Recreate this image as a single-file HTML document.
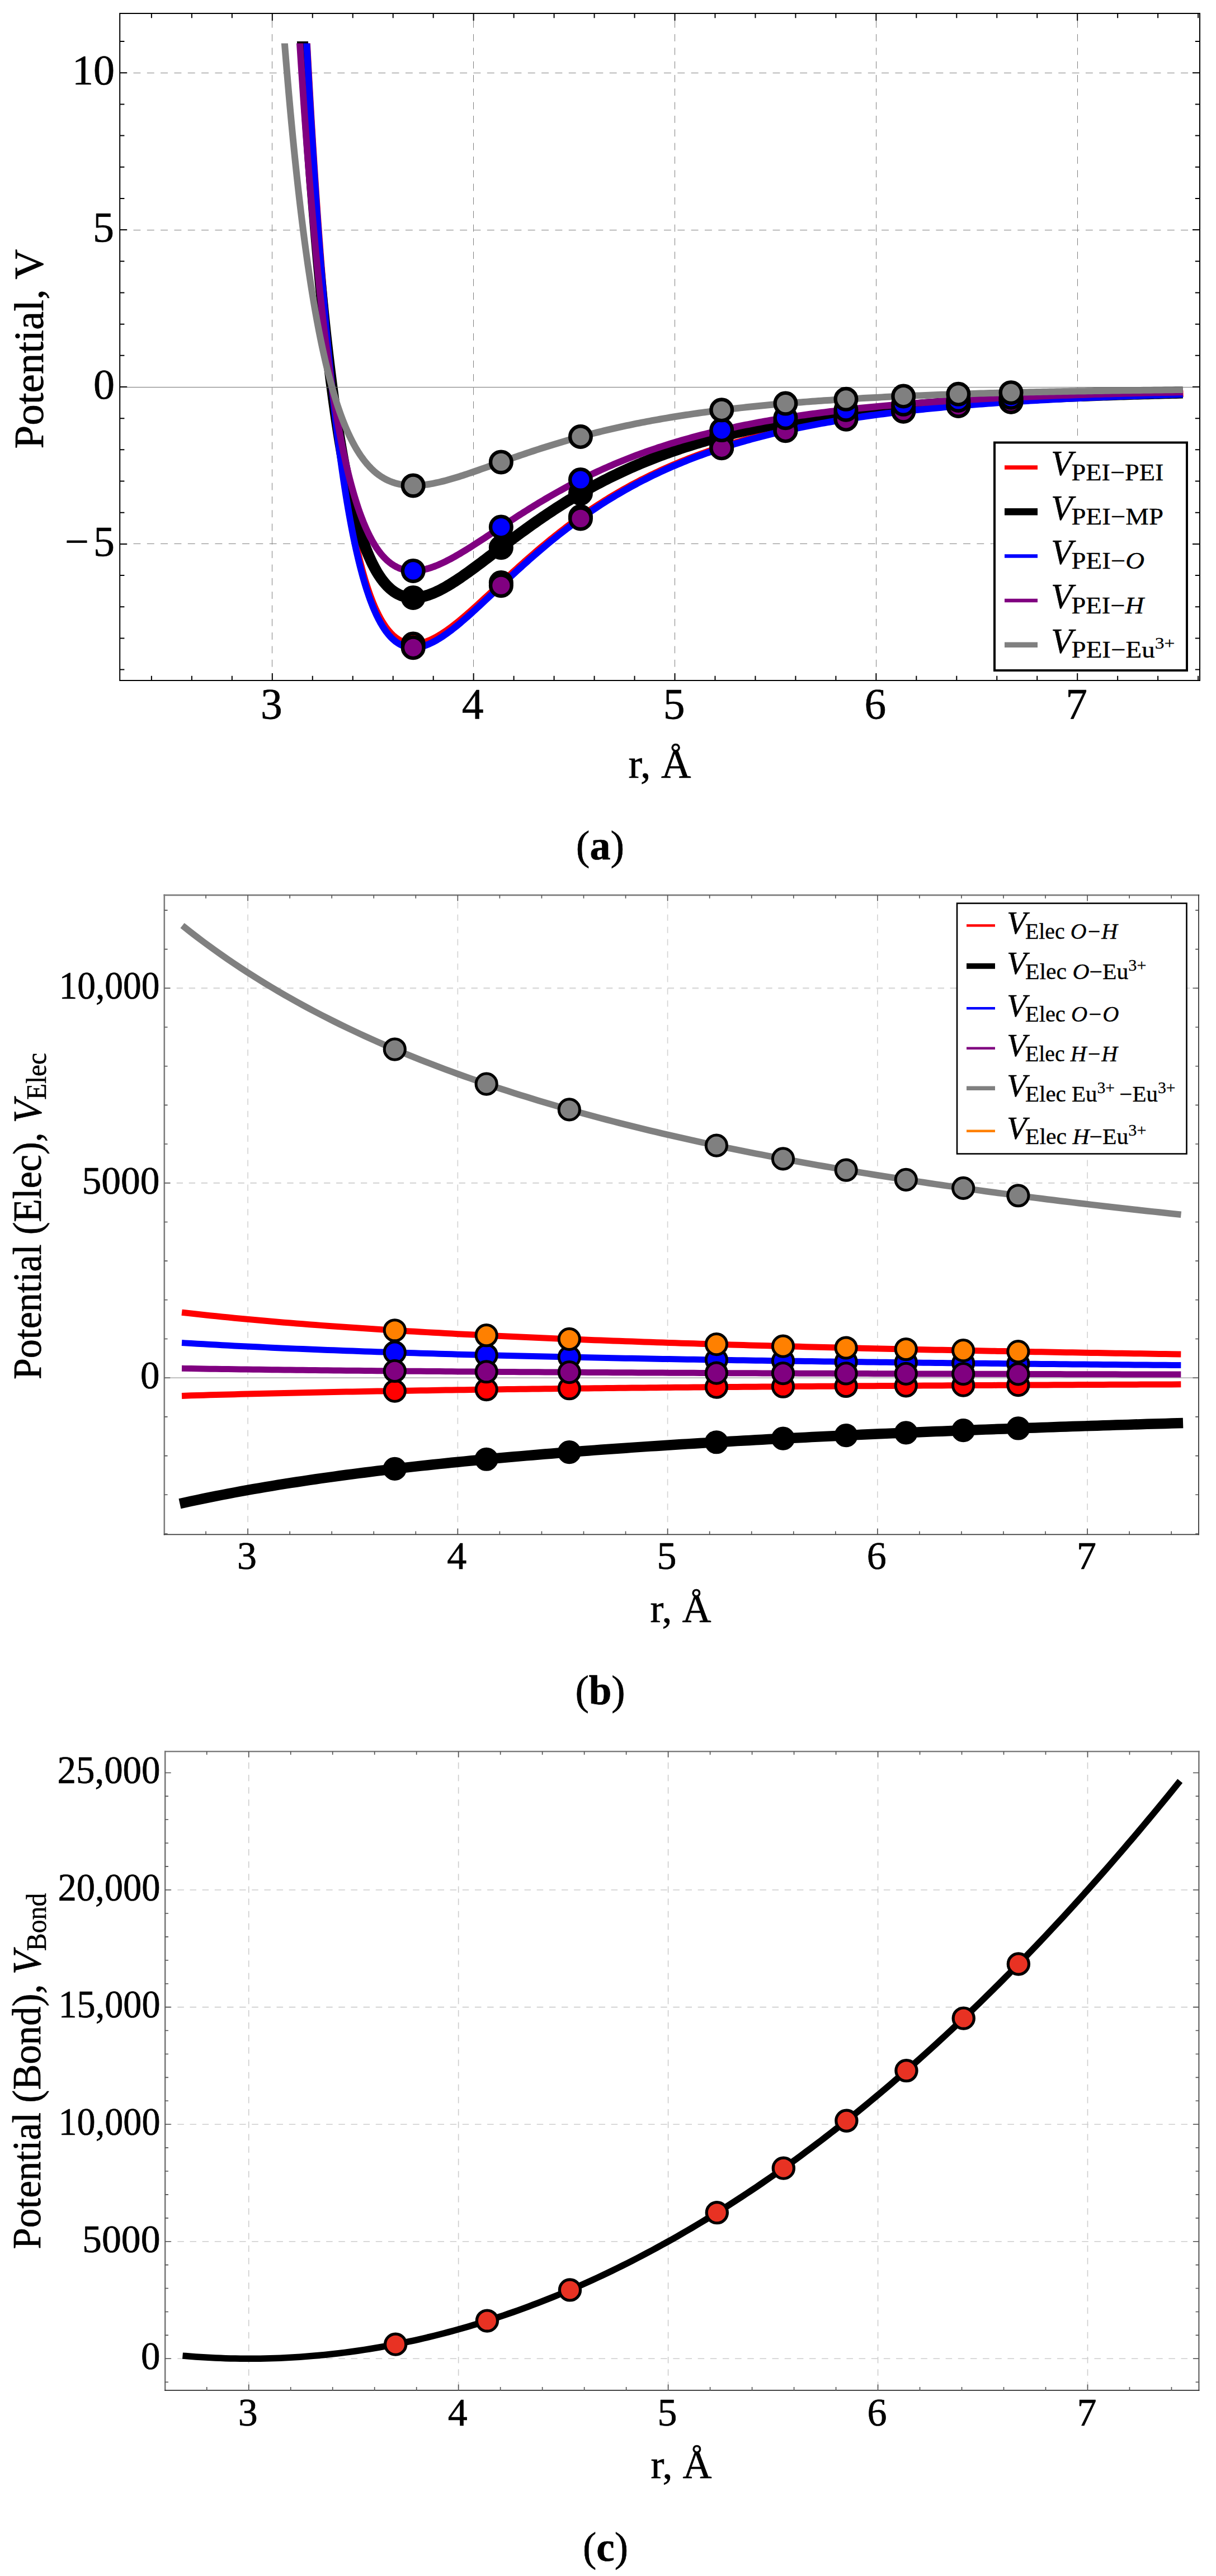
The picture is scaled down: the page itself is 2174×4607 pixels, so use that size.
<!DOCTYPE html>
<html lang="en">
<head>
<meta charset="utf-8">
<title>Potentials</title>
<style>
html,body{margin:0;padding:0;background:#fff;}
body{width:2174px;height:4607px;overflow:hidden;}
svg{display:block;}
svg text{font-family:"Liberation Serif", serif;fill:#000;stroke:#000;stroke-linejoin:round;}
.ta text,.ta tspan{stroke-width:0.009em;}
.tb text,.tb tspan{stroke-width:0.010em;}
</style>
</head>
<body>
<svg width="2174" height="4607" viewBox="0 0 2174 4607">
<rect x="0" y="0" width="2174" height="4607" fill="#fff"/>
<g id="plot-a" class="ta">
<line x1="486.5" y1="1217" x2="486.5" y2="24" stroke="#808080" stroke-width="1" stroke-dasharray="12.9 11.42"/>
<line x1="846.5" y1="1217" x2="846.5" y2="24" stroke="#808080" stroke-width="1" stroke-dasharray="12.9 11.42"/>
<line x1="1206.5" y1="1217" x2="1206.5" y2="24" stroke="#808080" stroke-width="1" stroke-dasharray="12.9 11.42"/>
<line x1="1566.5" y1="1217" x2="1566.5" y2="24" stroke="#808080" stroke-width="1" stroke-dasharray="12.9 11.42"/>
<line x1="1926.5" y1="1217" x2="1926.5" y2="24" stroke="#808080" stroke-width="1" stroke-dasharray="12.9 11.42"/>
<line x1="214.2" y1="130.5" x2="2145" y2="130.5" stroke="#808080" stroke-width="1" stroke-dasharray="12.9 11.42"/>
<line x1="214.2" y1="411.5" x2="2145" y2="411.5" stroke="#808080" stroke-width="1" stroke-dasharray="12.9 11.42"/>
<line x1="214.2" y1="972.5" x2="2145" y2="972.5" stroke="#808080" stroke-width="1" stroke-dasharray="12.9 11.42"/>
<g clip-path="url(#clipA)">
<path d="M546.83 54.92 L546.94 56.97 L547.16 61.12 L547.46 66.76 L547.82 73.63 L548.25 81.57 L548.73 90.47 L549.26 100.24 L549.83 110.79 L550.45 122.07 L551.12 134.01 L551.83 146.56 L552.57 159.68 L553.36 173.31 L554.18 187.42 L555.03 201.96 L555.93 216.89 L556.85 232.19 L557.81 247.82 L558.8 263.74 L559.83 279.92 L560.88 296.34 L561.97 312.96 L563.08 329.76 L564.23 346.72 L565.4 363.8 L566.6 380.98 L567.83 398.24 L569.09 415.56 L570.38 432.91 L571.69 450.28 L573.03 467.64 L574.39 484.97 L575.78 502.26 L577.2 519.5 L578.64 536.65 L580.11 553.72 L581.6 570.67 L583.12 587.5 L584.66 604.2 L586.22 620.74 L587.81 637.13 L589.42 653.34 L591.05 669.36 L592.71 685.19 L594.39 700.82 L596.09 716.23 L597.81 731.42 L599.56 746.38 L601.33 761.1 L603.12 775.57 L604.93 789.79 L606.76 803.75 L608.62 817.45 L610.49 830.89 L612.39 844.04 L614.31 856.93 L616.25 869.53 L618.2 881.85 L620.18 893.88 L622.18 905.62 L624.2 917.07 L626.24 928.23 L628.3 939.1 L630.38 949.67 L632.48 959.95 L634.59 969.94 L636.73 979.63 L638.89 989.02 L641.06 998.12 L643.26 1006.93 L645.47 1015.45 L647.7 1023.68 L649.95 1031.62 L652.22 1039.27 L654.51 1046.64 L656.82 1053.73 L659.14 1060.54 L661.49 1067.07 L663.85 1073.33 L666.23 1079.31 L668.62 1085.04 L671.04 1090.49 L673.47 1095.69 L675.92 1100.63 L678.39 1105.31 L680.87 1109.75 L683.37 1113.94 L685.89 1117.89 L688.43 1121.6 L690.99 1125.08 L693.56 1128.33 L696.14 1131.35 L698.75 1134.15 L701.37 1136.74 L704.01 1139.11 L706.67 1141.28 L709.34 1143.24 L712.03 1145 L714.73 1146.57 L717.45 1147.95 L720.19 1149.14 L722.95 1150.15 L725.72 1150.99 L728.5 1151.65 L731.31 1152.15 L734.13 1152.48 L736.96 1152.65 L739.81 1152.66 L742.68 1152.53 L745.56 1152.25 L748.46 1151.83 L751.37 1151.27 L754.3 1150.57 L757.25 1149.75 L760.21 1148.8 L763.19 1147.73 L766.18 1146.54 L769.19 1145.24 L772.21 1143.83 L775.25 1142.31 L778.3 1140.69 L781.37 1138.98 L784.45 1137.16 L787.55 1135.26 L790.66 1133.27 L793.79 1131.19 L796.94 1129.03 L800.09 1126.8 L803.27 1124.49 L806.45 1122.11 L809.66 1119.66 L812.87 1117.15 L816.11 1114.58 L819.35 1111.94 L822.61 1109.26 L825.89 1106.51 L829.18 1103.72 L832.49 1100.88 L835.8 1098 L839.14 1095.07 L842.49 1092.1 L845.85 1089.1 L849.22 1086.06 L852.61 1082.98 L856.02 1079.88 L859.44 1076.75 L862.87 1073.59 L866.32 1070.41 L869.78 1067.2 L873.25 1063.98 L876.74 1060.74 L880.24 1057.48 L883.76 1054.21 L887.29 1050.92 L890.84 1047.63 L894.39 1044.32 L897.97 1041.01 L901.55 1037.69 L905.15 1034.36 L908.76 1031.04 L912.39 1027.71 L916.03 1024.38 L919.68 1021.05 L923.35 1017.72 L927.03 1014.4 L930.72 1011.08 L934.43 1007.76 L938.15 1004.46 L941.88 1001.16 L945.63 997.87 L949.39 994.58 L953.16 991.31 L956.95 988.05 L960.75 984.81 L964.56 981.57 L968.39 978.35 L972.22 975.15 L976.08 971.96 L979.94 968.79 L983.82 965.63 L987.71 962.49 L991.61 959.37 L995.53 956.26 L999.46 953.18 L1003.4 950.11 L1007.36 947.07 L1011.32 944.04 L1015.3 941.04 L1019.3 938.06 L1023.3 935.1 L1027.32 932.16 L1031.35 929.24 L1035.4 926.35 L1039.45 923.47 L1043.52 920.63 L1047.61 917.8 L1051.7 915 L1055.81 912.22 L1059.93 909.47 L1064.06 906.74 L1068.2 904.04 L1072.36 901.36 L1076.53 898.7 L1080.71 896.07 L1084.9 893.46 L1089.11 890.88 L1093.32 888.32 L1097.55 885.79 L1101.8 883.29 L1106.05 880.81 L1110.32 878.35 L1114.6 875.92 L1118.89 873.51 L1123.19 871.13 L1127.51 868.77 L1131.83 866.44 L1136.17 864.14 L1140.52 861.86 L1144.89 859.6 L1149.26 857.37 L1153.65 855.16 L1158.05 852.98 L1162.46 850.82 L1166.88 848.69 L1171.32 846.58 L1175.77 844.49 L1180.22 842.43 L1184.69 840.4 L1189.18 838.38 L1193.67 836.39 L1198.18 834.43 L1202.69 832.49 L1207.22 830.57 L1211.76 828.67 L1216.32 826.8 L1220.88 824.95 L1225.46 823.12 L1230.04 821.31 L1234.64 819.53 L1239.25 817.77 L1243.87 816.03 L1248.51 814.31 L1253.15 812.62 L1257.81 810.94 L1262.48 809.29 L1267.16 807.66 L1271.85 806.04 L1276.55 804.45 L1281.26 802.88 L1285.99 801.33 L1290.72 799.8 L1295.47 798.29 L1300.23 796.8 L1305 795.33 L1309.78 793.88 L1314.57 792.45 L1319.38 791.03 L1324.19 789.64 L1329.02 788.26 L1333.86 786.9 L1338.71 785.56 L1343.57 784.24 L1348.44 782.94 L1353.32 781.65 L1358.21 780.38 L1363.12 779.13 L1368.03 777.89 L1372.96 776.68 L1377.9 775.47 L1382.84 774.29 L1387.8 773.12 L1392.78 771.97 L1397.76 770.83 L1402.75 769.71 L1407.75 768.6 L1412.77 767.51 L1417.79 766.43 L1422.83 765.37 L1427.88 764.33 L1432.93 763.3 L1438 762.28 L1443.08 761.28 L1448.17 760.29 L1453.27 759.31 L1458.39 758.35 L1463.51 757.4 L1468.64 756.47 L1473.79 755.55 L1478.94 754.64 L1484.11 753.74 L1489.28 752.86 L1494.47 751.99 L1499.67 751.13 L1504.88 750.28 L1510.1 749.45 L1515.33 748.63 L1520.57 747.82 L1525.82 747.02 L1531.08 746.23 L1536.35 745.46 L1541.64 744.69 L1546.93 743.94 L1552.23 743.19 L1557.55 742.46 L1562.87 741.74 L1568.21 741.03 L1573.55 740.33 L1578.91 739.64 L1584.28 738.95 L1589.65 738.28 L1595.04 737.62 L1600.44 736.97 L1605.85 736.32 L1611.26 735.69 L1616.69 735.07 L1622.13 734.45 L1627.58 733.84 L1633.04 733.25 L1638.51 732.66 L1643.99 732.08 L1649.48 731.51 L1654.99 730.94 L1660.5 730.39 L1666.02 729.84 L1671.55 729.3 L1677.09 728.77 L1682.65 728.24 L1688.21 727.73 L1693.78 727.22 L1699.36 726.72 L1704.96 726.22 L1710.56 725.73 L1716.17 725.25 L1721.8 724.78 L1727.43 724.32 L1733.07 723.86 L1738.73 723.4 L1744.39 722.96 L1750.07 722.52 L1755.75 722.09 L1761.44 721.66 L1767.15 721.24 L1772.86 720.82 L1778.59 720.42 L1784.32 720.01 L1790.06 719.62 L1795.82 719.23 L1801.58 718.84 L1807.36 718.46 L1813.14 718.09 L1818.93 717.72 L1824.74 717.36 L1830.55 717 L1836.38 716.65 L1842.21 716.3 L1848.05 715.96 L1853.9 715.62 L1859.77 715.29 L1865.64 714.96 L1871.52 714.64 L1877.42 714.32 L1883.32 714 L1889.23 713.7 L1895.15 713.39 L1901.08 713.09 L1907.02 712.8 L1912.98 712.5 L1918.94 712.22 L1924.91 711.93 L1930.89 711.66 L1936.88 711.38 L1942.88 711.11 L1948.89 710.84 L1954.9 710.58 L1960.93 710.32 L1966.97 710.07 L1973.02 709.82 L1979.08 709.57 L1985.14 709.32 L1991.22 709.08 L1997.31 708.85 L2003.4 708.61 L2009.51 708.38 L2015.62 708.15 L2021.75 707.93 L2027.88 707.71 L2034.03 707.49 L2040.18 707.28 L2046.34 707.07 L2052.52 706.86 L2058.7 706.65 L2064.89 706.45 L2071.09 706.25 L2077.3 706.06 L2083.52 705.86 L2089.75 705.67 L2095.99 705.49 L2102.24 705.3 L2108.49 705.12 L2114.76 704.94" fill="none" stroke="#ff0000" stroke-width="12" stroke-linejoin="round" stroke-linecap="butt" transform="translate(0.8,-0.9)"/>
</g>
<g clip-path="url(#clipAb)">
<path d="M539.79 54.92 L539.9 56.79 L540.11 60.57 L540.41 65.72 L540.78 71.98 L541.21 79.23 L541.69 87.34 L542.22 96.25 L542.8 105.88 L543.42 116.17 L544.09 127.07 L544.8 138.52 L545.55 150.48 L546.34 162.92 L547.16 175.79 L548.02 189.06 L548.92 202.68 L549.85 216.65 L550.81 230.91 L551.81 245.43 L552.84 260.21 L553.9 275.19 L554.99 290.37 L556.11 305.71 L557.26 321.19 L558.44 336.78 L559.65 352.47 L560.88 368.24 L562.14 384.05 L563.44 399.9 L564.75 415.77 L566.1 431.63 L567.47 447.48 L568.87 463.28 L570.29 479.03 L571.74 494.72 L573.21 510.32 L574.71 525.83 L576.23 541.23 L577.78 556.5 L579.35 571.65 L580.94 586.64 L582.56 601.49 L584.2 616.16 L585.87 630.67 L587.55 644.99 L589.26 659.11 L590.99 673.04 L592.75 686.76 L594.53 700.26 L596.32 713.55 L598.14 726.6 L599.99 739.43 L601.85 752.02 L603.73 764.37 L605.64 776.47 L607.56 788.33 L609.51 799.93 L611.48 811.28 L613.47 822.37 L615.47 833.21 L617.5 843.78 L619.55 854.09 L621.62 864.13 L623.71 873.91 L625.81 883.43 L627.94 892.68 L630.09 901.67 L632.26 910.39 L634.44 918.85 L636.64 927.05 L638.87 934.98 L641.11 942.65 L643.37 950.07 L645.65 957.23 L647.95 964.13 L650.27 970.78 L652.6 977.18 L654.95 983.33 L657.33 989.24 L659.72 994.9 L662.12 1000.32 L664.55 1005.51 L666.99 1010.46 L669.45 1015.18 L671.93 1019.67 L674.43 1023.94 L676.94 1027.99 L679.47 1031.82 L682.02 1035.44 L684.59 1038.85 L687.17 1042.05 L689.77 1045.05 L692.39 1047.86 L695.02 1050.46 L697.67 1052.88 L700.34 1055.11 L703.02 1057.16 L705.72 1059.03 L708.44 1060.72 L711.17 1062.25 L713.92 1063.61 L716.69 1064.8 L719.47 1065.83 L722.27 1066.72 L725.09 1067.44 L727.92 1068.03 L730.77 1068.47 L733.63 1068.77 L736.51 1068.93 L739.41 1068.96 L742.32 1068.87 L745.25 1068.65 L748.19 1068.31 L751.15 1067.86 L754.12 1067.29 L757.11 1066.61 L760.12 1065.82 L763.14 1064.94 L766.17 1063.95 L769.23 1062.87 L772.29 1061.7 L775.38 1060.43 L778.47 1059.09 L781.58 1057.66 L784.71 1056.15 L787.85 1054.56 L791.01 1052.9 L794.18 1051.17 L797.37 1049.37 L800.57 1047.51 L803.79 1045.59 L807.02 1043.61 L810.27 1041.57 L813.53 1039.47 L816.81 1037.33 L820.1 1035.14 L823.4 1032.9 L826.72 1030.62 L830.06 1028.3 L833.4 1025.93 L836.77 1023.53 L840.14 1021.1 L843.54 1018.63 L846.94 1016.14 L850.36 1013.61 L853.8 1011.06 L857.24 1008.48 L860.71 1005.88 L864.18 1003.26 L867.67 1000.62 L871.18 997.97 L874.7 995.29 L878.23 992.61 L881.77 989.91 L885.33 987.19 L888.91 984.47 L892.5 981.74 L896.1 979.01 L899.71 976.27 L903.34 973.52 L906.98 970.77 L910.64 968.02 L914.31 965.27 L917.99 962.52 L921.69 959.76 L925.4 957.02 L929.12 954.27 L932.86 951.53 L936.61 948.8 L940.37 946.07 L944.15 943.35 L947.94 940.63 L951.74 937.93 L955.56 935.23 L959.39 932.55 L963.23 929.87 L967.09 927.21 L970.96 924.56 L974.84 921.92 L978.74 919.3 L982.64 916.69 L986.57 914.09 L990.5 911.51 L994.45 908.94 L998.41 906.39 L1002.38 903.86 L1006.36 901.34 L1010.36 898.84 L1014.37 896.36 L1018.4 893.89 L1022.44 891.45 L1026.48 889.02 L1030.55 886.61 L1034.62 884.22 L1038.71 881.84 L1042.81 879.49 L1046.92 877.16 L1051.05 874.84 L1055.18 872.55 L1059.33 870.28 L1063.5 868.02 L1067.67 865.79 L1071.86 863.58 L1076.06 861.38 L1080.27 859.21 L1084.5 857.06 L1088.73 854.93 L1092.98 852.82 L1097.24 850.73 L1101.52 848.66 L1105.8 846.62 L1110.1 844.59 L1114.41 842.58 L1118.74 840.6 L1123.07 838.64 L1127.42 836.69 L1131.78 834.77 L1136.15 832.87 L1140.53 830.99 L1144.92 829.13 L1149.33 827.29 L1153.75 825.47 L1158.18 823.68 L1162.62 821.9 L1167.08 820.14 L1171.55 818.4 L1176.02 816.69 L1180.51 814.99 L1185.02 813.31 L1189.53 811.66 L1194.06 810.02 L1198.59 808.4 L1203.14 806.8 L1207.7 805.22 L1212.28 803.66 L1216.86 802.12 L1221.46 800.6 L1226.07 799.09 L1230.69 797.61 L1235.32 796.14 L1239.96 794.7 L1244.61 793.27 L1249.28 791.85 L1253.96 790.46 L1258.65 789.08 L1263.35 787.73 L1268.06 786.38 L1272.78 785.06 L1277.52 783.75 L1282.26 782.46 L1287.02 781.19 L1291.79 779.94 L1296.57 778.7 L1301.36 777.47 L1306.16 776.26 L1310.98 775.07 L1315.8 773.9 L1320.64 772.74 L1325.49 771.59 L1330.35 770.46 L1335.22 769.35 L1340.1 768.25 L1344.99 767.17 L1349.9 766.1 L1354.81 765.04 L1359.74 764 L1364.68 762.97 L1369.62 761.96 L1374.58 760.96 L1379.56 759.98 L1384.54 759.01 L1389.53 758.05 L1394.53 757.11 L1399.55 756.17 L1404.58 755.26 L1409.61 754.35 L1414.66 753.46 L1419.72 752.58 L1424.79 751.71 L1429.87 750.85 L1434.96 750.01 L1440.06 749.17 L1445.18 748.35 L1450.3 747.54 L1455.44 746.75 L1460.58 745.96 L1465.74 745.18 L1470.91 744.42 L1476.08 743.67 L1481.27 742.92 L1486.47 742.19 L1491.68 741.47 L1496.91 740.76 L1502.14 740.06 L1507.38 739.37 L1512.63 738.68 L1517.9 738.01 L1523.17 737.35 L1528.46 736.7 L1533.75 736.05 L1539.06 735.42 L1544.38 734.8 L1549.7 734.18 L1555.04 733.57 L1560.39 732.98 L1565.75 732.39 L1571.12 731.81 L1576.5 731.23 L1581.89 730.67 L1587.29 730.11 L1592.7 729.56 L1598.13 729.02 L1603.56 728.49 L1609 727.97 L1614.46 727.45 L1619.92 726.94 L1625.39 726.44 L1630.88 725.95 L1636.37 725.46 L1641.88 724.98 L1647.39 724.5 L1652.92 724.04 L1658.46 723.58 L1664 723.13 L1669.56 722.68 L1675.13 722.24 L1680.7 721.81 L1686.29 721.38 L1691.89 720.96 L1697.5 720.54 L1703.12 720.14 L1708.74 719.73 L1714.38 719.34 L1720.03 718.95 L1725.69 718.56 L1731.36 718.18 L1737.04 717.81 L1742.73 717.44 L1748.43 717.08 L1754.14 716.72 L1759.86 716.37 L1765.59 716.02 L1771.33 715.68 L1777.08 715.34 L1782.84 715.01 L1788.61 714.68 L1794.39 714.36 L1800.18 714.04 L1805.98 713.73 L1811.78 713.42 L1817.6 713.11 L1823.43 712.81 L1829.27 712.52 L1835.12 712.23 L1840.98 711.94 L1846.85 711.66 L1852.73 711.38 L1858.62 711.11 L1864.52 710.84 L1870.43 710.57 L1876.35 710.31 L1882.28 710.05 L1888.22 709.8 L1894.16 709.55 L1900.12 709.3 L1906.09 709.05 L1912.07 708.81 L1918.06 708.58 L1924.05 708.35 L1930.06 708.12 L1936.08 707.89 L1942.1 707.67 L1948.14 707.45 L1954.19 707.23 L1960.24 707.02 L1966.31 706.81 L1972.38 706.6 L1978.47 706.4 L1984.56 706.19 L1990.67 706 L1996.78 705.8 L2002.9 705.61 L2009.04 705.42 L2015.18 705.23 L2021.33 705.05 L2027.49 704.87 L2033.66 704.69 L2039.85 704.51 L2046.04 704.34 L2052.24 704.17 L2058.45 704 L2064.67 703.83 L2070.89 703.67 L2077.13 703.51 L2083.38 703.35 L2089.64 703.19 L2095.9 703.04 L2102.18 702.88 L2108.47 702.73 L2114.76 702.59" fill="none" stroke="#000000" stroke-width="20" stroke-linejoin="round" stroke-linecap="butt" />
</g>
<g clip-path="url(#clipA)">
<path d="M547.24 54.92 L547.35 56.98 L547.56 61.16 L547.86 66.83 L548.23 73.74 L548.65 81.72 L549.13 90.68 L549.66 100.5 L550.24 111.12 L550.86 122.46 L551.52 134.48 L552.23 147.1 L552.97 160.3 L553.76 174.01 L554.58 188.19 L555.44 202.82 L556.33 217.84 L557.25 233.23 L558.21 248.95 L559.2 264.96 L560.23 281.24 L561.28 297.75 L562.37 314.48 L563.48 331.37 L564.63 348.43 L565.8 365.61 L567 382.89 L568.23 400.25 L569.49 417.67 L570.78 435.12 L572.09 452.59 L573.43 470.05 L574.79 487.48 L576.18 504.87 L577.6 522.21 L579.04 539.46 L580.5 556.62 L582 573.67 L583.51 590.6 L585.05 607.39 L586.61 624.03 L588.2 640.51 L589.81 656.81 L591.44 672.92 L593.1 688.84 L594.78 704.56 L596.48 720.05 L598.2 735.33 L599.95 750.37 L601.72 765.17 L603.51 779.72 L605.32 794.02 L607.15 808.06 L609.01 821.83 L610.88 835.34 L612.78 848.57 L614.69 861.52 L616.63 874.18 L618.59 886.57 L620.57 898.66 L622.57 910.47 L624.59 921.98 L626.62 933.2 L628.68 944.12 L630.76 954.74 L632.86 965.07 L634.98 975.11 L637.11 984.84 L639.27 994.28 L641.44 1003.43 L643.64 1012.28 L645.85 1020.83 L648.08 1029.1 L650.33 1037.07 L652.6 1044.76 L654.89 1052.16 L657.19 1059.28 L659.52 1066.11 L661.86 1072.67 L664.22 1078.95 L666.6 1084.96 L669 1090.7 L671.41 1096.18 L673.84 1101.39 L676.29 1106.34 L678.76 1111.04 L681.24 1115.49 L683.74 1119.69 L686.26 1123.64 L688.8 1127.36 L691.35 1130.84 L693.92 1134.09 L696.51 1137.12 L699.11 1139.92 L701.74 1142.51 L704.37 1144.88 L707.03 1147.04 L709.7 1148.99 L712.39 1150.75 L715.09 1152.31 L717.81 1153.68 L720.55 1154.86 L723.31 1155.86 L726.08 1156.68 L728.86 1157.33 L731.66 1157.81 L734.48 1158.12 L737.32 1158.28 L740.17 1158.27 L743.03 1158.12 L745.91 1157.82 L748.81 1157.37 L751.73 1156.79 L754.65 1156.07 L757.6 1155.23 L760.56 1154.25 L763.54 1153.16 L766.53 1151.94 L769.53 1150.61 L772.55 1149.17 L775.59 1147.62 L778.64 1145.98 L781.71 1144.23 L784.79 1142.38 L787.89 1140.45 L791 1138.42 L794.13 1136.31 L797.27 1134.12 L800.43 1131.86 L803.6 1129.51 L806.79 1127.1 L809.99 1124.62 L813.21 1122.07 L816.44 1119.46 L819.69 1116.79 L822.95 1114.06 L826.22 1111.29 L829.51 1108.46 L832.82 1105.58 L836.13 1102.66 L839.47 1099.69 L842.81 1096.68 L846.17 1093.64 L849.55 1090.56 L852.94 1087.45 L856.34 1084.31 L859.76 1081.14 L863.19 1077.94 L866.64 1074.72 L870.1 1071.48 L873.57 1068.22 L877.06 1064.94 L880.56 1061.64 L884.08 1058.33 L887.61 1055 L891.15 1051.67 L894.71 1048.32 L898.28 1044.97 L901.86 1041.61 L905.46 1038.25 L909.07 1034.88 L912.7 1031.51 L916.34 1028.14 L919.99 1024.78 L923.65 1021.41 L927.33 1018.05 L931.03 1014.69 L934.73 1011.34 L938.45 1007.99 L942.18 1004.66 L945.93 1001.33 L949.69 998.01 L953.46 994.7 L957.25 991.41 L961.04 988.12 L964.86 984.85 L968.68 981.6 L972.52 978.35 L976.37 975.13 L980.23 971.92 L984.11 968.73 L988 965.55 L991.9 962.39 L995.82 959.26 L999.75 956.14 L1003.69 953.04 L1007.64 949.96 L1011.61 946.9 L1015.59 943.86 L1019.58 940.85 L1023.59 937.85 L1027.6 934.88 L1031.63 931.93 L1035.68 929 L1039.73 926.1 L1043.8 923.22 L1047.88 920.36 L1051.97 917.53 L1056.08 914.72 L1060.2 911.94 L1064.33 909.18 L1068.47 906.44 L1072.63 903.73 L1076.79 901.05 L1080.97 898.39 L1085.17 895.75 L1089.37 893.14 L1093.59 890.56 L1097.82 888 L1102.06 885.46 L1106.31 882.96 L1110.58 880.47 L1114.86 878.01 L1119.15 875.58 L1123.45 873.17 L1127.76 870.79 L1132.09 868.43 L1136.43 866.1 L1140.78 863.8 L1145.14 861.51 L1149.51 859.26 L1153.9 857.03 L1158.3 854.82 L1162.71 852.64 L1167.13 850.48 L1171.56 848.35 L1176.01 846.24 L1180.47 844.16 L1184.93 842.1 L1189.42 840.06 L1193.91 838.05 L1198.41 836.06 L1202.93 834.1 L1207.46 832.16 L1212 830.24 L1216.55 828.34 L1221.11 826.47 L1225.68 824.63 L1230.27 822.8 L1234.87 821 L1239.48 819.22 L1244.1 817.46 L1248.73 815.72 L1253.37 814.01 L1258.03 812.31 L1262.7 810.64 L1267.37 808.99 L1272.06 807.36 L1276.76 805.75 L1281.48 804.16 L1286.2 802.6 L1290.94 801.05 L1295.68 799.52 L1300.44 798.01 L1305.21 796.53 L1309.99 795.06 L1314.78 793.61 L1319.58 792.18 L1324.4 790.77 L1329.22 789.38 L1334.06 788 L1338.91 786.65 L1343.76 785.31 L1348.63 783.99 L1353.52 782.69 L1358.41 781.41 L1363.31 780.14 L1368.22 778.89 L1373.15 777.66 L1378.09 776.45 L1383.03 775.25 L1387.99 774.06 L1392.96 772.9 L1397.94 771.75 L1402.93 770.61 L1407.94 769.49 L1412.95 768.39 L1417.97 767.3 L1423.01 766.23 L1428.05 765.17 L1433.11 764.13 L1438.18 763.1 L1443.26 762.09 L1448.35 761.09 L1453.45 760.1 L1458.56 759.13 L1463.68 758.17 L1468.81 757.22 L1473.95 756.29 L1479.11 755.37 L1484.27 754.47 L1489.45 753.57 L1494.63 752.69 L1499.83 751.83 L1505.04 750.97 L1510.25 750.13 L1515.48 749.3 L1520.72 748.48 L1525.97 747.67 L1531.23 746.87 L1536.5 746.09 L1541.78 745.31 L1547.07 744.55 L1552.38 743.8 L1557.69 743.06 L1563.01 742.33 L1568.35 741.61 L1573.69 740.9 L1579.05 740.2 L1584.41 739.51 L1589.79 738.83 L1595.17 738.16 L1600.57 737.5 L1605.98 736.85 L1611.39 736.21 L1616.82 735.58 L1622.26 734.95 L1627.71 734.34 L1633.17 733.74 L1638.64 733.14 L1644.12 732.55 L1649.6 731.97 L1655.1 731.4 L1660.61 730.84 L1666.13 730.29 L1671.67 729.74 L1677.21 729.2 L1682.76 728.67 L1688.32 728.15 L1693.89 727.64 L1699.47 727.13 L1705.06 726.63 L1710.66 726.14 L1716.28 725.65 L1721.9 725.17 L1727.53 724.7 L1733.17 724.24 L1738.83 723.78 L1744.49 723.33 L1750.16 722.88 L1755.84 722.44 L1761.54 722.01 L1767.24 721.59 L1772.95 721.17 L1778.67 720.76 L1784.41 720.35 L1790.15 719.95 L1795.9 719.55 L1801.66 719.16 L1807.44 718.78 L1813.22 718.4 L1819.01 718.03 L1824.81 717.66 L1830.62 717.3 L1836.45 716.94 L1842.28 716.59 L1848.12 716.24 L1853.97 715.9 L1859.83 715.57 L1865.7 715.23 L1871.59 714.91 L1877.48 714.59 L1883.38 714.27 L1889.29 713.96 L1895.21 713.65 L1901.14 713.35 L1907.08 713.05 L1913.03 712.75 L1918.99 712.46 L1924.96 712.18 L1930.93 711.89 L1936.92 711.62 L1942.92 711.34 L1948.93 711.07 L1954.95 710.81 L1960.97 710.54 L1967.01 710.29 L1973.06 710.03 L1979.11 709.78 L1985.18 709.53 L1991.25 709.29 L1997.34 709.05 L2003.43 708.81 L2009.54 708.58 L2015.65 708.35 L2021.77 708.12 L2027.91 707.9 L2034.05 707.68 L2040.2 707.46 L2046.36 707.25 L2052.53 707.04 L2058.71 706.83 L2064.9 706.63 L2071.1 706.43 L2077.31 706.23 L2083.53 706.03 L2089.76 705.84 L2095.99 705.65 L2102.24 705.46 L2108.5 705.28 L2114.76 705.1" fill="none" stroke="#0000ff" stroke-width="12" stroke-linejoin="round" stroke-linecap="butt" />
</g>
<g clip-path="url(#clipA)">
<path d="M534.6 54.92 L534.71 56.68 L534.93 60.26 L535.23 65.12 L535.6 71.03 L536.03 77.88 L536.51 85.54 L537.04 93.96 L537.63 103.05 L538.25 112.77 L538.92 123.06 L539.63 133.88 L540.39 145.18 L541.18 156.93 L542 169.09 L542.87 181.62 L543.77 194.5 L544.7 207.69 L545.67 221.16 L546.67 234.89 L547.7 248.84 L548.76 263 L549.85 277.34 L550.98 291.84 L552.13 306.47 L553.31 321.21 L554.53 336.04 L555.77 350.94 L557.03 365.89 L558.33 380.87 L559.65 395.87 L561 410.87 L562.38 425.85 L563.78 440.8 L565.21 455.7 L566.66 470.53 L568.14 485.29 L569.64 499.96 L571.17 514.53 L572.72 528.99 L574.3 543.32 L575.89 557.52 L577.52 571.57 L579.16 585.47 L580.83 599.2 L582.53 612.76 L584.24 626.15 L585.98 639.34 L587.74 652.34 L589.52 665.15 L591.33 677.74 L593.15 690.13 L595 702.3 L596.87 714.24 L598.76 725.97 L600.67 737.46 L602.6 748.72 L604.56 759.74 L606.53 770.53 L608.52 781.08 L610.54 791.38 L612.57 801.44 L614.63 811.26 L616.7 820.83 L618.8 830.15 L620.91 839.22 L623.05 848.05 L625.2 856.63 L627.38 864.96 L629.57 873.05 L631.78 880.89 L634.01 888.48 L636.26 895.83 L638.53 902.94 L640.82 909.81 L643.12 916.45 L645.45 922.84 L647.79 929 L650.15 934.93 L652.53 940.63 L654.93 946.1 L657.34 951.35 L659.78 956.38 L662.23 961.19 L664.7 965.78 L667.18 970.16 L669.69 974.33 L672.21 978.3 L674.75 982.06 L677.3 985.62 L679.88 988.99 L682.47 992.17 L685.08 995.15 L687.7 997.95 L690.35 1000.57 L693.01 1003.01 L695.68 1005.28 L698.38 1007.38 L701.08 1009.3 L703.81 1011.07 L706.55 1012.68 L709.31 1014.13 L712.09 1015.43 L714.88 1016.58 L717.69 1017.58 L720.52 1018.45 L723.36 1019.17 L726.21 1019.77 L729.09 1020.23 L731.98 1020.57 L734.88 1020.78 L737.8 1020.87 L740.74 1020.85 L743.69 1020.72 L746.66 1020.47 L749.64 1020.12 L752.64 1019.67 L755.66 1019.12 L758.69 1018.47 L761.74 1017.73 L764.8 1016.9 L767.87 1015.99 L770.97 1014.99 L774.07 1013.91 L777.2 1012.75 L780.33 1011.52 L783.49 1010.21 L786.66 1008.84 L789.84 1007.4 L793.04 1005.9 L796.25 1004.34 L799.48 1002.72 L802.72 1001.04 L805.98 999.32 L809.25 997.54 L812.54 995.71 L815.84 993.83 L819.15 991.92 L822.48 989.96 L825.83 987.96 L829.19 985.92 L832.56 983.85 L835.95 981.75 L839.35 979.62 L842.77 977.45 L846.2 975.26 L849.65 973.05 L853.11 970.81 L856.58 968.54 L860.07 966.26 L863.57 963.96 L867.08 961.64 L870.61 959.31 L874.16 956.96 L877.72 954.6 L881.29 952.22 L884.87 949.84 L888.47 947.45 L892.09 945.05 L895.71 942.65 L899.35 940.24 L903.01 937.83 L906.68 935.41 L910.36 932.99 L914.05 930.57 L917.76 928.16 L921.48 925.74 L925.22 923.32 L928.97 920.91 L932.73 918.51 L936.51 916.1 L940.3 913.71 L944.1 911.31 L947.92 908.93 L951.74 906.56 L955.59 904.19 L959.44 901.83 L963.31 899.48 L967.19 897.14 L971.09 894.82 L975 892.5 L978.92 890.2 L982.85 887.9 L986.8 885.62 L990.76 883.36 L994.73 881.11 L998.72 878.87 L1002.72 876.65 L1006.73 874.44 L1010.75 872.24 L1014.79 870.07 L1018.84 867.9 L1022.9 865.76 L1026.98 863.63 L1031.07 861.51 L1035.17 859.42 L1039.28 857.34 L1043.41 855.27 L1047.55 853.23 L1051.7 851.2 L1055.86 849.19 L1060.04 847.2 L1064.23 845.22 L1068.43 843.27 L1072.64 841.33 L1076.87 839.41 L1081.11 837.51 L1085.36 835.62 L1089.62 833.76 L1093.9 831.91 L1098.18 830.08 L1102.48 828.27 L1106.8 826.48 L1111.12 824.71 L1115.46 822.95 L1119.81 821.22 L1124.17 819.5 L1128.54 817.8 L1132.93 816.12 L1137.32 814.46 L1141.73 812.81 L1146.15 811.19 L1150.59 809.58 L1155.03 807.99 L1159.49 806.42 L1163.96 804.86 L1168.44 803.33 L1172.93 801.81 L1177.44 800.31 L1181.96 798.83 L1186.49 797.36 L1191.03 795.92 L1195.58 794.49 L1200.14 793.07 L1204.72 791.68 L1209.31 790.3 L1213.91 788.94 L1218.52 787.59 L1223.14 786.26 L1227.78 784.95 L1232.42 783.66 L1237.08 782.38 L1241.75 781.11 L1246.43 779.87 L1251.12 778.63 L1255.83 777.42 L1260.54 776.22 L1265.27 775.03 L1270.01 773.86 L1274.76 772.71 L1279.52 771.57 L1284.29 770.45 L1289.08 769.34 L1293.88 768.24 L1298.68 767.16 L1303.5 766.1 L1308.33 765.04 L1313.17 764.01 L1318.03 762.98 L1322.89 761.97 L1327.77 760.98 L1332.65 759.99 L1337.55 759.02 L1342.46 758.07 L1347.38 757.12 L1352.31 756.19 L1357.25 755.27 L1362.21 754.37 L1367.17 753.47 L1372.15 752.59 L1377.14 751.72 L1382.13 750.87 L1387.14 750.02 L1392.16 749.19 L1397.2 748.37 L1402.24 747.56 L1407.29 746.76 L1412.36 745.97 L1417.43 745.19 L1422.52 744.43 L1427.62 743.67 L1432.72 742.93 L1437.84 742.19 L1442.97 741.47 L1448.11 740.76 L1453.27 740.05 L1458.43 739.36 L1463.6 738.68 L1468.79 738 L1473.98 737.34 L1479.19 736.69 L1484.41 736.04 L1489.63 735.41 L1494.87 734.78 L1500.12 734.16 L1505.38 733.55 L1510.65 732.95 L1515.93 732.36 L1521.22 731.78 L1526.53 731.2 L1531.84 730.64 L1537.16 730.08 L1542.5 729.53 L1547.84 728.99 L1553.2 728.45 L1558.57 727.93 L1563.94 727.41 L1569.33 726.9 L1574.73 726.39 L1580.14 725.89 L1585.56 725.41 L1590.99 724.92 L1596.43 724.45 L1601.88 723.98 L1607.34 723.52 L1612.81 723.06 L1618.29 722.62 L1623.78 722.17 L1629.29 721.74 L1634.8 721.31 L1640.32 720.89 L1645.86 720.47 L1651.4 720.06 L1656.95 719.66 L1662.52 719.26 L1668.09 718.87 L1673.68 718.48 L1679.28 718.1 L1684.88 717.72 L1690.5 717.35 L1696.12 716.99 L1701.76 716.63 L1707.41 716.28 L1713.06 715.93 L1718.73 715.59 L1724.41 715.25 L1730.1 714.91 L1735.8 714.59 L1741.5 714.26 L1747.22 713.94 L1752.95 713.63 L1758.69 713.32 L1764.44 713.02 L1770.2 712.71 L1775.96 712.42 L1781.74 712.13 L1787.53 711.84 L1793.33 711.56 L1799.14 711.28 L1804.96 711 L1810.79 710.73 L1816.63 710.46 L1822.48 710.2 L1828.33 709.94 L1834.2 709.69 L1840.08 709.44 L1845.97 709.19 L1851.87 708.94 L1857.78 708.7 L1863.7 708.47 L1869.63 708.23 L1875.56 708 L1881.51 707.78 L1887.47 707.55 L1893.44 707.33 L1899.42 707.12 L1905.4 706.9 L1911.4 706.69 L1917.41 706.49 L1923.43 706.28 L1929.45 706.08 L1935.49 705.88 L1941.54 705.69 L1947.59 705.49 L1953.66 705.3 L1959.73 705.12 L1965.82 704.93 L1971.91 704.75 L1978.02 704.57 L1984.13 704.4 L1990.26 704.22 L1996.39 704.05 L2002.54 703.88 L2008.69 703.72 L2014.85 703.55 L2021.02 703.39 L2027.21 703.23 L2033.4 703.08 L2039.6 702.92 L2045.81 702.77 L2052.03 702.62 L2058.26 702.47 L2064.5 702.33 L2070.75 702.18 L2077.01 702.04 L2083.28 701.9 L2089.55 701.77 L2095.84 701.63 L2102.14 701.5 L2108.45 701.37 L2114.76 701.24" fill="none" stroke="#800080" stroke-width="12" stroke-linejoin="round" stroke-linecap="butt" />
</g>
<g clip-path="url(#clipA)">
<path d="M507.09 54.92 L507.2 56.35 L507.43 59.26 L507.73 63.21 L508.11 68.02 L508.54 73.58 L509.03 79.82 L509.58 86.66 L510.17 94.05 L510.81 101.95 L511.49 110.32 L512.21 119.11 L512.98 128.3 L513.78 137.85 L514.62 147.74 L515.5 157.93 L516.41 168.4 L517.36 179.13 L518.35 190.09 L519.36 201.26 L520.41 212.61 L521.5 224.13 L522.61 235.8 L523.75 247.6 L524.93 259.51 L526.13 271.51 L527.36 283.58 L528.62 295.72 L529.91 307.89 L531.23 320.1 L532.58 332.33 L533.95 344.55 L535.35 356.77 L536.78 368.96 L538.23 381.11 L539.71 393.22 L541.21 405.27 L542.74 417.26 L544.29 429.16 L545.87 440.98 L547.48 452.7 L549.1 464.32 L550.75 475.82 L552.43 487.21 L554.13 498.46 L555.85 509.59 L557.6 520.57 L559.36 531.41 L561.15 542.1 L562.97 552.63 L564.8 563.01 L566.66 573.21 L568.54 583.25 L570.44 593.12 L572.37 602.81 L574.31 612.32 L576.28 621.65 L578.26 630.8 L580.27 639.76 L582.3 648.54 L584.35 657.12 L586.42 665.52 L588.51 673.73 L590.62 681.74 L592.75 689.57 L594.91 697.2 L597.08 704.64 L599.27 711.88 L601.48 718.94 L603.71 725.8 L605.96 732.47 L608.23 738.96 L610.52 745.25 L612.83 751.36 L615.15 757.28 L617.5 763.02 L619.86 768.57 L622.25 773.95 L624.65 779.14 L627.07 784.16 L629.51 789 L631.97 793.67 L634.44 798.16 L636.94 802.49 L639.45 806.65 L641.98 810.65 L644.53 814.48 L647.09 818.16 L649.68 821.68 L652.28 825.05 L654.9 828.26 L657.53 831.33 L660.19 834.25 L662.86 837.03 L665.55 839.67 L668.25 842.17 L670.98 844.54 L673.72 846.78 L676.47 848.89 L679.25 850.87 L682.04 852.73 L684.84 854.47 L687.67 856.09 L690.51 857.6 L693.37 858.99 L696.24 860.28 L699.13 861.46 L702.04 862.54 L704.96 863.52 L707.9 864.4 L710.86 865.18 L713.83 865.88 L716.82 866.48 L719.82 866.99 L722.84 867.43 L725.88 867.78 L728.93 868.05 L732 868.24 L735.08 868.36 L738.18 868.4 L741.29 868.38 L744.43 868.29 L747.57 868.14 L750.73 867.92 L753.91 867.64 L757.1 867.3 L760.31 866.91 L763.53 866.46 L766.77 865.96 L770.02 865.41 L773.29 864.81 L776.58 864.17 L779.88 863.48 L783.19 862.75 L786.52 861.98 L789.86 861.17 L793.22 860.33 L796.6 859.44 L799.98 858.53 L803.39 857.58 L806.81 856.6 L810.24 855.59 L813.69 854.56 L817.15 853.5 L820.62 852.41 L824.11 851.3 L827.62 850.17 L831.14 849.02 L834.67 847.84 L838.22 846.65 L841.79 845.45 L845.36 844.23 L848.95 842.99 L852.56 841.74 L856.18 840.47 L859.81 839.2 L863.46 837.91 L867.12 836.62 L870.8 835.31 L874.49 834 L878.19 832.68 L881.91 831.36 L885.64 830.03 L889.39 828.69 L893.15 827.36 L896.92 826.01 L900.71 824.67 L904.51 823.33 L908.32 821.98 L912.15 820.63 L915.99 819.29 L919.85 817.94 L923.72 816.6 L927.6 815.26 L931.5 813.92 L935.41 812.58 L939.33 811.25 L943.26 809.92 L947.21 808.59 L951.18 807.27 L955.15 805.96 L959.14 804.65 L963.15 803.34 L967.16 802.05 L971.19 800.75 L975.23 799.47 L979.29 798.19 L983.36 796.92 L987.44 795.66 L991.53 794.41 L995.64 793.16 L999.76 791.92 L1003.89 790.69 L1008.04 789.47 L1012.2 788.26 L1016.37 787.06 L1020.56 785.86 L1024.75 784.68 L1028.97 783.51 L1033.19 782.34 L1037.43 781.19 L1041.67 780.04 L1045.94 778.91 L1050.21 777.78 L1054.5 776.67 L1058.8 775.56 L1063.11 774.47 L1067.43 773.38 L1071.77 772.31 L1076.12 771.25 L1080.48 770.2 L1084.86 769.16 L1089.25 768.12 L1093.65 767.1 L1098.06 766.09 L1102.48 765.09 L1106.92 764.11 L1111.37 763.13 L1115.83 762.16 L1120.31 761.2 L1124.79 760.26 L1129.29 759.32 L1133.8 758.4 L1138.32 757.48 L1142.86 756.58 L1147.41 755.69 L1151.97 754.8 L1156.54 753.93 L1161.12 753.07 L1165.72 752.21 L1170.32 751.37 L1174.94 750.54 L1179.58 749.72 L1184.22 748.91 L1188.88 748.11 L1193.54 747.31 L1198.22 746.53 L1202.91 745.76 L1207.62 745 L1212.33 744.24 L1217.06 743.5 L1221.8 742.77 L1226.55 742.04 L1231.31 741.33 L1236.09 740.62 L1240.87 739.93 L1245.67 739.24 L1250.48 738.56 L1255.3 737.89 L1260.14 737.23 L1264.98 736.58 L1269.84 735.93 L1274.7 735.3 L1279.58 734.67 L1284.47 734.06 L1289.38 733.45 L1294.29 732.84 L1299.22 732.25 L1304.15 731.67 L1309.1 731.09 L1314.06 730.52 L1319.04 729.96 L1324.02 729.41 L1329.01 728.86 L1334.02 728.32 L1339.04 727.79 L1344.07 727.27 L1349.11 726.75 L1354.16 726.25 L1359.22 725.74 L1364.29 725.25 L1369.38 724.76 L1374.48 724.28 L1379.58 723.81 L1384.7 723.34 L1389.83 722.88 L1394.97 722.43 L1400.13 721.98 L1405.29 721.54 L1410.47 721.11 L1415.65 720.68 L1420.85 720.26 L1426.06 719.84 L1431.28 719.43 L1436.51 719.03 L1441.75 718.63 L1447 718.24 L1452.27 717.85 L1457.54 717.47 L1462.83 717.09 L1468.12 716.72 L1473.43 716.36 L1478.75 716 L1484.08 715.64 L1489.42 715.3 L1494.77 714.95 L1500.13 714.61 L1505.51 714.28 L1510.89 713.95 L1516.29 713.63 L1521.69 713.31 L1527.11 712.99 L1532.54 712.68 L1537.97 712.38 L1543.42 712.08 L1548.88 711.78 L1554.35 711.49 L1559.83 711.2 L1565.33 710.92 L1570.83 710.64 L1576.34 710.37 L1581.87 710.1 L1587.4 709.83 L1592.95 709.57 L1598.5 709.31 L1604.07 709.05 L1609.65 708.8 L1615.23 708.56 L1620.83 708.31 L1626.44 708.07 L1632.06 707.84 L1637.69 707.6 L1643.33 707.37 L1648.98 707.15 L1654.65 706.92 L1660.32 706.71 L1666 706.49 L1671.69 706.28 L1677.4 706.07 L1683.11 705.86 L1688.84 705.66 L1694.57 705.46 L1700.32 705.26 L1706.07 705.07 L1711.84 704.88 L1717.61 704.69 L1723.4 704.5 L1729.2 704.32 L1735 704.14 L1740.82 703.96 L1746.65 703.79 L1752.49 703.62 L1758.34 703.45 L1764.2 703.28 L1770.07 703.11 L1775.95 702.95 L1781.83 702.79 L1787.73 702.64 L1793.64 702.48 L1799.56 702.33 L1805.5 702.18 L1811.44 702.03 L1817.39 701.89 L1823.35 701.74 L1829.32 701.6 L1835.3 701.46 L1841.29 701.33 L1847.29 701.19 L1853.3 701.06 L1859.33 700.93 L1865.36 700.8 L1871.4 700.67 L1877.45 700.55 L1883.51 700.42 L1889.59 700.3 L1895.67 700.18 L1901.76 700.06 L1907.86 699.95 L1913.97 699.83 L1920.09 699.72 L1926.23 699.61 L1932.37 699.5 L1938.52 699.39 L1944.68 699.29 L1950.85 699.18 L1957.03 699.08 L1963.23 698.98 L1969.43 698.88 L1975.64 698.78 L1981.86 698.68 L1988.09 698.59 L1994.33 698.49 L2000.58 698.4 L2006.84 698.31 L2013.11 698.22 L2019.39 698.13 L2025.68 698.05 L2031.98 697.96 L2038.29 697.88 L2044.61 697.79 L2050.94 697.71 L2057.28 697.63 L2063.63 697.55 L2069.98 697.47 L2076.35 697.39 L2082.73 697.32 L2089.12 697.24 L2095.51 697.17 L2101.92 697.1 L2108.34 697.02 L2114.76 696.95" fill="none" stroke="#808080" stroke-width="12" stroke-linejoin="round" stroke-linecap="butt" />
</g>
<line x1="214.2" y1="692.5" x2="2145" y2="692.5" stroke="#6e6e6e" stroke-width="1" />
<circle cx="738.7" cy="1151.55" r="18.8" fill="#ff0000" stroke="#000" stroke-width="6.4"/>
<circle cx="895.85" cy="1042.11" r="18.8" fill="#ff0000" stroke="#000" stroke-width="6.4"/>
<circle cx="1037.93" cy="923.98" r="18.8" fill="#ff0000" stroke="#000" stroke-width="6.4"/>
<circle cx="1290.2" cy="799.71" r="18.8" fill="#ff0000" stroke="#000" stroke-width="6.4"/>
<circle cx="1404.42" cy="769.15" r="18.8" fill="#ff0000" stroke="#000" stroke-width="6.4"/>
<circle cx="1512.45" cy="748.94" r="18.8" fill="#ff0000" stroke="#000" stroke-width="6.4"/>
<circle cx="1615.2" cy="735.13" r="18.8" fill="#ff0000" stroke="#000" stroke-width="6.4"/>
<circle cx="1713.38" cy="725.41" r="18.8" fill="#ff0000" stroke="#000" stroke-width="6.4"/>
<circle cx="1807.55" cy="718.38" r="18.8" fill="#ff0000" stroke="#000" stroke-width="6.4"/>
<circle cx="738.7" cy="1068.97" r="18.8" fill="#000000" stroke="#000" stroke-width="6.4"/>
<circle cx="895.85" cy="979.2" r="18.8" fill="#000000" stroke="#000" stroke-width="6.4"/>
<circle cx="1037.93" cy="882.29" r="18.8" fill="#000000" stroke="#000" stroke-width="6.4"/>
<circle cx="1290.2" cy="780.35" r="18.8" fill="#000000" stroke="#000" stroke-width="6.4"/>
<circle cx="1404.42" cy="755.28" r="18.8" fill="#000000" stroke="#000" stroke-width="6.4"/>
<circle cx="1512.45" cy="738.71" r="18.8" fill="#000000" stroke="#000" stroke-width="6.4"/>
<circle cx="1615.2" cy="727.38" r="18.8" fill="#000000" stroke="#000" stroke-width="6.4"/>
<circle cx="1713.38" cy="719.41" r="18.8" fill="#000000" stroke="#000" stroke-width="6.4"/>
<circle cx="1807.55" cy="713.64" r="18.8" fill="#000000" stroke="#000" stroke-width="6.4"/>
<circle cx="738.7" cy="1158.29" r="18.8" fill="#800080" stroke="#000" stroke-width="6.4"/>
<circle cx="895.85" cy="1047.25" r="18.8" fill="#800080" stroke="#000" stroke-width="6.4"/>
<circle cx="1037.93" cy="927.39" r="18.8" fill="#800080" stroke="#000" stroke-width="6.4"/>
<circle cx="1290.2" cy="801.29" r="18.8" fill="#800080" stroke="#000" stroke-width="6.4"/>
<circle cx="1404.42" cy="770.28" r="18.8" fill="#800080" stroke="#000" stroke-width="6.4"/>
<circle cx="1512.45" cy="749.78" r="18.8" fill="#800080" stroke="#000" stroke-width="6.4"/>
<circle cx="1615.2" cy="735.76" r="18.8" fill="#800080" stroke="#000" stroke-width="6.4"/>
<circle cx="1713.38" cy="725.9" r="18.8" fill="#800080" stroke="#000" stroke-width="6.4"/>
<circle cx="1807.55" cy="718.77" r="18.8" fill="#800080" stroke="#000" stroke-width="6.4"/>
<circle cx="738.7" cy="1020.88" r="18.8" fill="#0000ff" stroke="#000" stroke-width="6.4"/>
<circle cx="895.85" cy="942.56" r="18.8" fill="#0000ff" stroke="#000" stroke-width="6.4"/>
<circle cx="1037.93" cy="858.02" r="18.8" fill="#0000ff" stroke="#000" stroke-width="6.4"/>
<circle cx="1290.2" cy="769.08" r="18.8" fill="#0000ff" stroke="#000" stroke-width="6.4"/>
<circle cx="1404.42" cy="747.21" r="18.8" fill="#0000ff" stroke="#000" stroke-width="6.4"/>
<circle cx="1512.45" cy="732.75" r="18.8" fill="#0000ff" stroke="#000" stroke-width="6.4"/>
<circle cx="1615.2" cy="722.87" r="18.8" fill="#0000ff" stroke="#000" stroke-width="6.4"/>
<circle cx="1713.38" cy="715.91" r="18.8" fill="#0000ff" stroke="#000" stroke-width="6.4"/>
<circle cx="1807.55" cy="710.88" r="18.8" fill="#0000ff" stroke="#000" stroke-width="6.4"/>
<circle cx="738.7" cy="868.41" r="18.8" fill="#808080" stroke="#000" stroke-width="6.4"/>
<circle cx="895.85" cy="826.4" r="18.8" fill="#808080" stroke="#000" stroke-width="6.4"/>
<circle cx="1037.93" cy="781.05" r="18.8" fill="#808080" stroke="#000" stroke-width="6.4"/>
<circle cx="1290.2" cy="733.34" r="18.8" fill="#808080" stroke="#000" stroke-width="6.4"/>
<circle cx="1404.42" cy="721.61" r="18.8" fill="#808080" stroke="#000" stroke-width="6.4"/>
<circle cx="1512.45" cy="713.86" r="18.8" fill="#808080" stroke="#000" stroke-width="6.4"/>
<circle cx="1615.2" cy="708.56" r="18.8" fill="#808080" stroke="#000" stroke-width="6.4"/>
<circle cx="1713.38" cy="704.83" r="18.8" fill="#808080" stroke="#000" stroke-width="6.4"/>
<circle cx="1807.55" cy="702.13" r="18.8" fill="#808080" stroke="#000" stroke-width="6.4"/>
<rect x="214.2" y="24" width="1930.8" height="1193" fill="none" stroke="#000" stroke-width="2"/>
<path d="M270.89 1217v-8.2M270.89 24v8.2M342.86 1217v-8.2M342.86 24v8.2M414.83 1217v-8.2M414.83 24v8.2M486.8 1217v-13M486.8 24v13M558.77 1217v-8.2M558.77 24v8.2M630.74 1217v-8.2M630.74 24v8.2M702.71 1217v-8.2M702.71 24v8.2M774.68 1217v-8.2M774.68 24v8.2M846.65 1217v-13M846.65 24v13M918.62 1217v-8.2M918.62 24v8.2M990.59 1217v-8.2M990.59 24v8.2M1062.56 1217v-8.2M1062.56 24v8.2M1134.53 1217v-8.2M1134.53 24v8.2M1206.5 1217v-13M1206.5 24v13M1278.47 1217v-8.2M1278.47 24v8.2M1350.44 1217v-8.2M1350.44 24v8.2M1422.41 1217v-8.2M1422.41 24v8.2M1494.38 1217v-8.2M1494.38 24v8.2M1566.35 1217v-13M1566.35 24v13M1638.32 1217v-8.2M1638.32 24v8.2M1710.29 1217v-8.2M1710.29 24v8.2M1782.26 1217v-8.2M1782.26 24v8.2M1854.23 1217v-8.2M1854.23 24v8.2M1926.2 1217v-13M1926.2 24v13M1998.17 1217v-8.2M1998.17 24v8.2M2070.14 1217v-8.2M2070.14 24v8.2M2142.11 1217v-8.2M2142.11 24v8.2M214.2 1197.62h8.2M2145 1197.62h-8.2M214.2 1141.44h8.2M2145 1141.44h-8.2M214.2 1085.26h8.2M2145 1085.26h-8.2M214.2 1029.08h8.2M2145 1029.08h-8.2M214.2 972.9h13M2145 972.9h-13M214.2 916.72h8.2M2145 916.72h-8.2M214.2 860.54h8.2M2145 860.54h-8.2M214.2 804.36h8.2M2145 804.36h-8.2M214.2 748.18h8.2M2145 748.18h-8.2M214.2 692h13M2145 692h-13M214.2 635.82h8.2M2145 635.82h-8.2M214.2 579.64h8.2M2145 579.64h-8.2M214.2 523.46h8.2M2145 523.46h-8.2M214.2 467.28h8.2M2145 467.28h-8.2M214.2 411.1h13M2145 411.1h-13M214.2 354.92h8.2M2145 354.92h-8.2M214.2 298.74h8.2M2145 298.74h-8.2M214.2 242.56h8.2M2145 242.56h-8.2M214.2 186.38h8.2M2145 186.38h-8.2M214.2 130.2h13M2145 130.2h-13M214.2 74.02h8.2M2145 74.02h-8.2" fill="none" stroke="#000" stroke-width="2"/>
<text x="485.3" y="1285" font-size="77.5" text-anchor="middle" >3</text>
<text x="845.15" y="1285" font-size="77.5" text-anchor="middle" >4</text>
<text x="1205" y="1285" font-size="77.5" text-anchor="middle" >5</text>
<text x="1564.85" y="1285" font-size="77.5" text-anchor="middle" >6</text>
<text x="1924.7" y="1285" font-size="77.5" text-anchor="middle" >7</text>
<text x="205" y="151.2" font-size="76" text-anchor="end" >10</text>
<text x="204" y="432.1" font-size="76" text-anchor="end" >5</text>
<text x="205" y="713" font-size="76" text-anchor="end" >0</text>
<text x="205" y="993.9" font-size="76" text-anchor="end" textLength="89" lengthAdjust="spacing">−5</text>
<text transform="translate(77 624) rotate(-90)" font-size="75" text-anchor="middle">Potential, V</text>
<text x="1179.5" y="1391" font-size="74" text-anchor="middle" >r, Å</text>
<text x="1073" y="1537" font-size="74" text-anchor="middle">(<tspan font-weight="bold">a</tspan>)</text>
<rect x="1778" y="791.5" width="344" height="407.5" fill="#fff" stroke="#000" stroke-width="4"/>
<line x1="1796" y1="836" x2="1855" y2="836" stroke="#ff0000" stroke-width="7.5" />
<text x="1879" y="850.3" font-size="63" font-style="italic">V</text>
<text x="1915.5" y="858.8" font-size="42" textLength="165" lengthAdjust="spacingAndGlyphs">PEI−PEI</text>
<line x1="1796" y1="915.3" x2="1855" y2="915.3" stroke="#000000" stroke-width="12.5" />
<text x="1879" y="929.6" font-size="63" font-style="italic">V</text>
<text x="1915.5" y="938.1" font-size="42" textLength="164.5" lengthAdjust="spacingAndGlyphs">PEI−MP</text>
<line x1="1796" y1="994.6" x2="1855" y2="994.6" stroke="#0000ff" stroke-width="6.5" />
<text x="1879" y="1008.9" font-size="63" font-style="italic">V</text>
<text x="1915.5" y="1017.4" font-size="42" textLength="130.5" lengthAdjust="spacingAndGlyphs">PEI−<tspan font-style="italic">O</tspan></text>
<line x1="1796" y1="1073.9" x2="1855" y2="1073.9" stroke="#800080" stroke-width="6.5" />
<text x="1879" y="1088.2" font-size="63" font-style="italic">V</text>
<text x="1915.5" y="1096.7" font-size="42" textLength="129.5" lengthAdjust="spacingAndGlyphs">PEI−<tspan font-style="italic">H</tspan></text>
<line x1="1796" y1="1153.2" x2="1855" y2="1153.2" stroke="#808080" stroke-width="9.5" />
<text x="1879" y="1167.5" font-size="63" font-style="italic">V</text>
<text x="1915.5" y="1176" font-size="42" textLength="185" lengthAdjust="spacingAndGlyphs">PEI−Eu<tspan font-size="30" dy="-16">3+</tspan></text>
</g>
<clipPath id="clipA"><rect x="214.2" y="77.39" width="1930.8" height="1139.61"/></clipPath>
<clipPath id="clipAb"><rect x="214.2" y="74.09" width="1930.8" height="1142.91"/></clipPath>
<g id="plot-b" class="tb">
<line x1="443.1" y1="2744.3" x2="443.1" y2="1600.9" stroke="#d2d2d2" stroke-width="1.6" stroke-dasharray="11.3 10.65"/>
<line x1="818.35" y1="2744.3" x2="818.35" y2="1600.9" stroke="#d2d2d2" stroke-width="1.6" stroke-dasharray="11.3 10.65"/>
<line x1="1193.6" y1="2744.3" x2="1193.6" y2="1600.9" stroke="#d2d2d2" stroke-width="1.6" stroke-dasharray="11.3 10.65"/>
<line x1="1568.85" y1="2744.3" x2="1568.85" y2="1600.9" stroke="#d2d2d2" stroke-width="1.6" stroke-dasharray="11.3 10.65"/>
<line x1="1944.1" y1="2744.3" x2="1944.1" y2="1600.9" stroke="#d2d2d2" stroke-width="1.6" stroke-dasharray="11.3 10.65"/>
<line x1="293.8" y1="1767.3" x2="2143" y2="1767.3" stroke="#dadada" stroke-width="2.4" stroke-dasharray="11.3 10.65"/>
<line x1="293.8" y1="2115.75" x2="2143" y2="2115.75" stroke="#dadada" stroke-width="2.4" stroke-dasharray="11.3 10.65"/>
<line x1="293.8" y1="2464.2" x2="2143" y2="2464.2" stroke="#999999" stroke-width="1.2" />
<path d="M330.53 2496.21 L341.62 2495.86 L352.72 2495.52 L363.81 2495.19 L374.91 2494.86 L386 2494.54 L397.1 2494.23 L408.19 2493.93 L419.29 2493.63 L430.39 2493.33 L441.48 2493.05 L452.58 2492.76 L463.67 2492.49 L474.77 2492.22 L485.86 2491.95 L496.96 2491.69 L508.06 2491.43 L519.15 2491.18 L530.25 2490.94 L541.34 2490.69 L552.44 2490.46 L563.53 2490.22 L574.63 2489.99 L585.73 2489.77 L596.82 2489.54 L607.92 2489.33 L619.01 2489.11 L630.11 2488.9 L641.2 2488.69 L652.3 2488.49 L663.4 2488.29 L674.49 2488.09 L685.59 2487.9 L696.68 2487.71 L707.78 2487.52 L718.87 2487.34 L729.97 2487.16 L741.06 2486.98 L752.16 2486.8 L763.26 2486.63 L774.35 2486.46 L785.45 2486.29 L796.54 2486.12 L807.64 2485.96 L818.73 2485.8 L829.83 2485.64 L840.93 2485.48 L852.02 2485.33 L863.12 2485.18 L874.21 2485.03 L885.31 2484.88 L896.4 2484.74 L907.5 2484.59 L918.6 2484.45 L929.69 2484.31 L940.79 2484.17 L951.88 2484.04 L962.98 2483.91 L974.07 2483.77 L985.17 2483.64 L996.27 2483.51 L1007.36 2483.39 L1018.46 2483.26 L1029.55 2483.14 L1040.65 2483.02 L1051.74 2482.9 L1062.84 2482.78 L1073.94 2482.66 L1085.03 2482.54 L1096.13 2482.43 L1107.22 2482.32 L1118.32 2482.21 L1129.41 2482.1 L1140.51 2481.99 L1151.6 2481.88 L1162.7 2481.77 L1173.8 2481.67 L1184.89 2481.56 L1195.99 2481.46 L1207.08 2481.36 L1218.18 2481.26 L1229.27 2481.16 L1240.37 2481.06 L1251.47 2480.97 L1262.56 2480.87 L1273.66 2480.78 L1284.75 2480.68 L1295.85 2480.59 L1306.94 2480.5 L1318.04 2480.41 L1329.14 2480.32 L1340.23 2480.23 L1351.33 2480.14 L1362.42 2480.06 L1373.52 2479.97 L1384.61 2479.89 L1395.71 2479.8 L1406.81 2479.72 L1417.9 2479.64 L1429 2479.56 L1440.09 2479.48 L1451.19 2479.4 L1462.28 2479.32 L1473.38 2479.24 L1484.48 2479.16 L1495.57 2479.09 L1506.67 2479.01 L1517.76 2478.94 L1528.86 2478.86 L1539.95 2478.79 L1551.05 2478.72 L1562.14 2478.65 L1573.24 2478.57 L1584.34 2478.5 L1595.43 2478.43 L1606.53 2478.37 L1617.62 2478.3 L1628.72 2478.23 L1639.81 2478.16 L1650.91 2478.1 L1662.01 2478.03 L1673.1 2477.97 L1684.2 2477.9 L1695.29 2477.84 L1706.39 2477.77 L1717.48 2477.71 L1728.58 2477.65 L1739.68 2477.59 L1750.77 2477.53 L1761.87 2477.47 L1772.96 2477.41 L1784.06 2477.35 L1795.15 2477.29 L1806.25 2477.23 L1817.35 2477.17 L1828.44 2477.11 L1839.54 2477.06 L1850.63 2477 L1861.73 2476.94 L1872.82 2476.89 L1883.92 2476.83 L1895.01 2476.78 L1906.11 2476.73 L1917.21 2476.67 L1928.3 2476.62 L1939.4 2476.57 L1950.49 2476.52 L1961.59 2476.46 L1972.68 2476.41 L1983.78 2476.36 L1994.88 2476.31 L2005.97 2476.26 L2017.07 2476.21 L2028.16 2476.16 L2039.26 2476.11 L2050.35 2476.07 L2061.45 2476.02 L2072.55 2475.97 L2083.64 2475.92 L2094.74 2475.88 L2105.83 2475.83" fill="none" stroke="#ff0000" stroke-width="11" stroke-linejoin="round" stroke-linecap="square" />
<path d="M330.53 2687.21 L341.62 2684.79 L352.72 2682.43 L363.81 2680.11 L374.91 2677.85 L386 2675.63 L397.1 2673.46 L408.19 2671.33 L419.29 2669.24 L430.39 2667.2 L441.48 2665.2 L452.58 2663.23 L463.67 2661.31 L474.77 2659.42 L485.86 2657.56 L496.96 2655.74 L508.06 2653.96 L519.15 2652.21 L530.25 2650.49 L541.34 2648.8 L552.44 2647.14 L563.53 2645.51 L574.63 2643.91 L585.73 2642.34 L596.82 2640.79 L607.92 2639.28 L619.01 2637.78 L630.11 2636.32 L641.2 2634.87 L652.3 2633.45 L663.4 2632.06 L674.49 2630.69 L685.59 2629.34 L696.68 2628.01 L707.78 2626.7 L718.87 2625.41 L729.97 2624.15 L741.06 2622.9 L752.16 2621.67 L763.26 2620.47 L774.35 2619.28 L785.45 2618.1 L796.54 2616.95 L807.64 2615.81 L818.73 2614.69 L829.83 2613.59 L840.93 2612.5 L852.02 2611.43 L863.12 2610.37 L874.21 2609.33 L885.31 2608.3 L896.4 2607.29 L907.5 2606.29 L918.6 2605.31 L929.69 2604.34 L940.79 2603.38 L951.88 2602.43 L962.98 2601.5 L974.07 2600.58 L985.17 2599.67 L996.27 2598.78 L1007.36 2597.9 L1018.46 2597.02 L1029.55 2596.16 L1040.65 2595.31 L1051.74 2594.47 L1062.84 2593.65 L1073.94 2592.83 L1085.03 2592.02 L1096.13 2591.22 L1107.22 2590.44 L1118.32 2589.66 L1129.41 2588.89 L1140.51 2588.13 L1151.6 2587.38 L1162.7 2586.64 L1173.8 2585.91 L1184.89 2585.19 L1195.99 2584.47 L1207.08 2583.77 L1218.18 2583.07 L1229.27 2582.38 L1240.37 2581.7 L1251.47 2581.02 L1262.56 2580.36 L1273.66 2579.7 L1284.75 2579.04 L1295.85 2578.4 L1306.94 2577.76 L1318.04 2577.13 L1329.14 2576.51 L1340.23 2575.9 L1351.33 2575.29 L1362.42 2574.68 L1373.52 2574.09 L1384.61 2573.5 L1395.71 2572.91 L1406.81 2572.34 L1417.9 2571.77 L1429 2571.2 L1440.09 2570.64 L1451.19 2570.09 L1462.28 2569.54 L1473.38 2569 L1484.48 2568.46 L1495.57 2567.93 L1506.67 2567.4 L1517.76 2566.88 L1528.86 2566.37 L1539.95 2565.86 L1551.05 2565.35 L1562.14 2564.85 L1573.24 2564.36 L1584.34 2563.87 L1595.43 2563.38 L1606.53 2562.9 L1617.62 2562.43 L1628.72 2561.95 L1639.81 2561.49 L1650.91 2561.02 L1662.01 2560.57 L1673.1 2560.11 L1684.2 2559.66 L1695.29 2559.22 L1706.39 2558.78 L1717.48 2558.34 L1728.58 2557.91 L1739.68 2557.48 L1750.77 2557.05 L1761.87 2556.63 L1772.96 2556.21 L1784.06 2555.8 L1795.15 2555.39 L1806.25 2554.98 L1817.35 2554.58 L1828.44 2554.18 L1839.54 2553.78 L1850.63 2553.39 L1861.73 2553 L1872.82 2552.62 L1883.92 2552.23 L1895.01 2551.86 L1906.11 2551.48 L1917.21 2551.11 L1928.3 2550.74 L1939.4 2550.37 L1950.49 2550.01 L1961.59 2549.65 L1972.68 2549.29 L1983.78 2548.94 L1994.88 2548.59 L2005.97 2548.24 L2017.07 2547.89 L2028.16 2547.55 L2039.26 2547.21 L2050.35 2546.87 L2061.45 2546.54 L2072.55 2546.21 L2083.64 2545.88 L2094.74 2545.55 L2105.83 2545.23" fill="none" stroke="#000000" stroke-width="18.5" stroke-linejoin="round" stroke-linecap="square" />
<path d="M330.53 2401.87 L341.62 2402.54 L352.72 2403.2 L363.81 2403.85 L374.91 2404.48 L386 2405.1 L397.1 2405.71 L408.19 2406.3 L419.29 2406.89 L430.39 2407.46 L441.48 2408.02 L452.58 2408.57 L463.67 2409.11 L474.77 2409.63 L485.86 2410.15 L496.96 2410.66 L508.06 2411.16 L519.15 2411.65 L530.25 2412.13 L541.34 2412.6 L552.44 2413.07 L563.53 2413.52 L574.63 2413.97 L585.73 2414.41 L596.82 2414.84 L607.92 2415.26 L619.01 2415.68 L630.11 2416.09 L641.2 2416.49 L652.3 2416.89 L663.4 2417.28 L674.49 2417.66 L685.59 2418.04 L696.68 2418.41 L707.78 2418.78 L718.87 2419.14 L729.97 2419.49 L741.06 2419.84 L752.16 2420.18 L763.26 2420.52 L774.35 2420.85 L785.45 2421.18 L796.54 2421.5 L807.64 2421.82 L818.73 2422.14 L829.83 2422.44 L840.93 2422.75 L852.02 2423.05 L863.12 2423.34 L874.21 2423.63 L885.31 2423.92 L896.4 2424.2 L907.5 2424.48 L918.6 2424.76 L929.69 2425.03 L940.79 2425.3 L951.88 2425.56 L962.98 2425.82 L974.07 2426.08 L985.17 2426.33 L996.27 2426.58 L1007.36 2426.83 L1018.46 2427.07 L1029.55 2427.31 L1040.65 2427.55 L1051.74 2427.79 L1062.84 2428.02 L1073.94 2428.25 L1085.03 2428.47 L1096.13 2428.7 L1107.22 2428.92 L1118.32 2429.13 L1129.41 2429.35 L1140.51 2429.56 L1151.6 2429.77 L1162.7 2429.98 L1173.8 2430.18 L1184.89 2430.38 L1195.99 2430.58 L1207.08 2430.78 L1218.18 2430.97 L1229.27 2431.17 L1240.37 2431.36 L1251.47 2431.55 L1262.56 2431.73 L1273.66 2431.92 L1284.75 2432.1 L1295.85 2432.28 L1306.94 2432.46 L1318.04 2432.63 L1329.14 2432.81 L1340.23 2432.98 L1351.33 2433.15 L1362.42 2433.32 L1373.52 2433.49 L1384.61 2433.65 L1395.71 2433.81 L1406.81 2433.97 L1417.9 2434.13 L1429 2434.29 L1440.09 2434.45 L1451.19 2434.6 L1462.28 2434.76 L1473.38 2434.91 L1484.48 2435.06 L1495.57 2435.21 L1506.67 2435.35 L1517.76 2435.5 L1528.86 2435.64 L1539.95 2435.79 L1551.05 2435.93 L1562.14 2436.07 L1573.24 2436.2 L1584.34 2436.34 L1595.43 2436.48 L1606.53 2436.61 L1617.62 2436.74 L1628.72 2436.88 L1639.81 2437.01 L1650.91 2437.14 L1662.01 2437.26 L1673.1 2437.39 L1684.2 2437.52 L1695.29 2437.64 L1706.39 2437.76 L1717.48 2437.89 L1728.58 2438.01 L1739.68 2438.13 L1750.77 2438.25 L1761.87 2438.36 L1772.96 2438.48 L1784.06 2438.6 L1795.15 2438.71 L1806.25 2438.83 L1817.35 2438.94 L1828.44 2439.05 L1839.54 2439.16 L1850.63 2439.27 L1861.73 2439.38 L1872.82 2439.49 L1883.92 2439.59 L1895.01 2439.7 L1906.11 2439.8 L1917.21 2439.91 L1928.3 2440.01 L1939.4 2440.11 L1950.49 2440.22 L1961.59 2440.32 L1972.68 2440.42 L1983.78 2440.51 L1994.88 2440.61 L2005.97 2440.71 L2017.07 2440.81 L2028.16 2440.9 L2039.26 2441 L2050.35 2441.09 L2061.45 2441.19 L2072.55 2441.28 L2083.64 2441.37 L2094.74 2441.46 L2105.83 2441.55" fill="none" stroke="#0000ff" stroke-width="11" stroke-linejoin="round" stroke-linecap="square" />
<path d="M330.53 2447.42 L341.62 2447.6 L352.72 2447.78 L363.81 2447.96 L374.91 2448.13 L386 2448.29 L397.1 2448.46 L408.19 2448.62 L419.29 2448.77 L430.39 2448.93 L441.48 2449.08 L452.58 2449.23 L463.67 2449.37 L474.77 2449.51 L485.86 2449.65 L496.96 2449.79 L508.06 2449.92 L519.15 2450.06 L530.25 2450.19 L541.34 2450.31 L552.44 2450.44 L563.53 2450.56 L574.63 2450.68 L585.73 2450.8 L596.82 2450.91 L607.92 2451.03 L619.01 2451.14 L630.11 2451.25 L641.2 2451.36 L652.3 2451.47 L663.4 2451.57 L674.49 2451.67 L685.59 2451.78 L696.68 2451.88 L707.78 2451.97 L718.87 2452.07 L729.97 2452.17 L741.06 2452.26 L752.16 2452.35 L763.26 2452.44 L774.35 2452.53 L785.45 2452.62 L796.54 2452.71 L807.64 2452.79 L818.73 2452.88 L829.83 2452.96 L840.93 2453.04 L852.02 2453.12 L863.12 2453.2 L874.21 2453.28 L885.31 2453.36 L896.4 2453.44 L907.5 2453.51 L918.6 2453.58 L929.69 2453.66 L940.79 2453.73 L951.88 2453.8 L962.98 2453.87 L974.07 2453.94 L985.17 2454.01 L996.27 2454.08 L1007.36 2454.14 L1018.46 2454.21 L1029.55 2454.27 L1040.65 2454.34 L1051.74 2454.4 L1062.84 2454.46 L1073.94 2454.52 L1085.03 2454.58 L1096.13 2454.64 L1107.22 2454.7 L1118.32 2454.76 L1129.41 2454.82 L1140.51 2454.88 L1151.6 2454.93 L1162.7 2454.99 L1173.8 2455.04 L1184.89 2455.1 L1195.99 2455.15 L1207.08 2455.2 L1218.18 2455.26 L1229.27 2455.31 L1240.37 2455.36 L1251.47 2455.41 L1262.56 2455.46 L1273.66 2455.51 L1284.75 2455.56 L1295.85 2455.61 L1306.94 2455.66 L1318.04 2455.7 L1329.14 2455.75 L1340.23 2455.8 L1351.33 2455.84 L1362.42 2455.89 L1373.52 2455.93 L1384.61 2455.98 L1395.71 2456.02 L1406.81 2456.06 L1417.9 2456.11 L1429 2456.15 L1440.09 2456.19 L1451.19 2456.23 L1462.28 2456.28 L1473.38 2456.32 L1484.48 2456.36 L1495.57 2456.4 L1506.67 2456.44 L1517.76 2456.47 L1528.86 2456.51 L1539.95 2456.55 L1551.05 2456.59 L1562.14 2456.63 L1573.24 2456.66 L1584.34 2456.7 L1595.43 2456.74 L1606.53 2456.77 L1617.62 2456.81 L1628.72 2456.85 L1639.81 2456.88 L1650.91 2456.92 L1662.01 2456.95 L1673.1 2456.98 L1684.2 2457.02 L1695.29 2457.05 L1706.39 2457.08 L1717.48 2457.12 L1728.58 2457.15 L1739.68 2457.18 L1750.77 2457.21 L1761.87 2457.25 L1772.96 2457.28 L1784.06 2457.31 L1795.15 2457.34 L1806.25 2457.37 L1817.35 2457.4 L1828.44 2457.43 L1839.54 2457.46 L1850.63 2457.49 L1861.73 2457.52 L1872.82 2457.55 L1883.92 2457.58 L1895.01 2457.61 L1906.11 2457.63 L1917.21 2457.66 L1928.3 2457.69 L1939.4 2457.72 L1950.49 2457.74 L1961.59 2457.77 L1972.68 2457.8 L1983.78 2457.83 L1994.88 2457.85 L2005.97 2457.88 L2017.07 2457.9 L2028.16 2457.93 L2039.26 2457.96 L2050.35 2457.98 L2061.45 2458.01 L2072.55 2458.03 L2083.64 2458.06 L2094.74 2458.08 L2105.83 2458.1" fill="none" stroke="#800080" stroke-width="11" stroke-linejoin="round" stroke-linecap="square" />
<path d="M330.53 1658.89 L341.62 1667.62 L352.72 1676.15 L363.81 1684.51 L374.91 1692.69 L386 1700.7 L397.1 1708.55 L408.19 1716.23 L419.29 1723.76 L430.39 1731.15 L441.48 1738.38 L452.58 1745.47 L463.67 1752.43 L474.77 1759.25 L485.86 1765.95 L496.96 1772.52 L508.06 1778.96 L519.15 1785.29 L530.25 1791.5 L541.34 1797.6 L552.44 1803.59 L563.53 1809.47 L574.63 1815.25 L585.73 1820.92 L596.82 1826.5 L607.92 1831.98 L619.01 1837.37 L630.11 1842.67 L641.2 1847.88 L652.3 1853 L663.4 1858.04 L674.49 1863 L685.59 1867.87 L696.68 1872.67 L707.78 1877.39 L718.87 1882.04 L729.97 1886.61 L741.06 1891.11 L752.16 1895.54 L763.26 1899.91 L774.35 1904.2 L785.45 1908.44 L796.54 1912.6 L807.64 1916.71 L818.73 1920.76 L829.83 1924.74 L840.93 1928.67 L852.02 1932.54 L863.12 1936.36 L874.21 1940.12 L885.31 1943.83 L896.4 1947.49 L907.5 1951.09 L918.6 1954.65 L929.69 1958.16 L940.79 1961.61 L951.88 1965.03 L962.98 1968.39 L974.07 1971.71 L985.17 1974.99 L996.27 1978.22 L1007.36 1981.41 L1018.46 1984.56 L1029.55 1987.67 L1040.65 1990.74 L1051.74 1993.77 L1062.84 1996.76 L1073.94 1999.71 L1085.03 2002.63 L1096.13 2005.5 L1107.22 2008.35 L1118.32 2011.16 L1129.41 2013.93 L1140.51 2016.67 L1151.6 2019.38 L1162.7 2022.05 L1173.8 2024.7 L1184.89 2027.31 L1195.99 2029.89 L1207.08 2032.44 L1218.18 2034.96 L1229.27 2037.45 L1240.37 2039.91 L1251.47 2042.34 L1262.56 2044.75 L1273.66 2047.13 L1284.75 2049.48 L1295.85 2051.81 L1306.94 2054.11 L1318.04 2056.38 L1329.14 2058.63 L1340.23 2060.86 L1351.33 2063.06 L1362.42 2065.23 L1373.52 2067.39 L1384.61 2069.52 L1395.71 2071.62 L1406.81 2073.71 L1417.9 2075.77 L1429 2077.81 L1440.09 2079.83 L1451.19 2081.83 L1462.28 2083.81 L1473.38 2085.77 L1484.48 2087.7 L1495.57 2089.62 L1506.67 2091.52 L1517.76 2093.4 L1528.86 2095.26 L1539.95 2097.1 L1551.05 2098.92 L1562.14 2100.73 L1573.24 2102.52 L1584.34 2104.29 L1595.43 2106.04 L1606.53 2107.78 L1617.62 2109.5 L1628.72 2111.2 L1639.81 2112.89 L1650.91 2114.56 L1662.01 2116.21 L1673.1 2117.85 L1684.2 2119.47 L1695.29 2121.08 L1706.39 2122.67 L1717.48 2124.25 L1728.58 2125.82 L1739.68 2127.37 L1750.77 2128.9 L1761.87 2130.43 L1772.96 2131.93 L1784.06 2133.43 L1795.15 2134.91 L1806.25 2136.38 L1817.35 2137.83 L1828.44 2139.27 L1839.54 2140.7 L1850.63 2142.12 L1861.73 2143.53 L1872.82 2144.92 L1883.92 2146.3 L1895.01 2147.67 L1906.11 2149.02 L1917.21 2150.37 L1928.3 2151.7 L1939.4 2153.02 L1950.49 2154.34 L1961.59 2155.64 L1972.68 2156.93 L1983.78 2158.2 L1994.88 2159.47 L2005.97 2160.73 L2017.07 2161.98 L2028.16 2163.21 L2039.26 2164.44 L2050.35 2165.66 L2061.45 2166.87 L2072.55 2168.06 L2083.64 2169.25 L2094.74 2170.43 L2105.83 2171.6" fill="none" stroke="#808080" stroke-width="11.5" stroke-linejoin="round" stroke-linecap="square" />
<path d="M330.53 2347.79 L341.62 2349.05 L352.72 2350.29 L363.81 2351.49 L374.91 2352.68 L386 2353.84 L397.1 2354.97 L408.19 2356.08 L419.29 2357.17 L430.39 2358.24 L441.48 2359.28 L452.58 2360.31 L463.67 2361.31 L474.77 2362.3 L485.86 2363.27 L496.96 2364.22 L508.06 2365.15 L519.15 2366.06 L530.25 2366.96 L541.34 2367.84 L552.44 2368.71 L563.53 2369.56 L574.63 2370.39 L585.73 2371.21 L596.82 2372.02 L607.92 2372.81 L619.01 2373.59 L630.11 2374.36 L641.2 2375.11 L652.3 2375.85 L663.4 2376.58 L674.49 2377.3 L685.59 2378 L696.68 2378.69 L707.78 2379.38 L718.87 2380.05 L729.97 2380.71 L741.06 2381.36 L752.16 2382 L763.26 2382.63 L774.35 2383.25 L785.45 2383.86 L796.54 2384.47 L807.64 2385.06 L818.73 2385.64 L829.83 2386.22 L840.93 2386.79 L852.02 2387.35 L863.12 2387.9 L874.21 2388.44 L885.31 2388.98 L896.4 2389.51 L907.5 2390.03 L918.6 2390.54 L929.69 2391.05 L940.79 2391.55 L951.88 2392.04 L962.98 2392.53 L974.07 2393.01 L985.17 2393.48 L996.27 2393.95 L1007.36 2394.41 L1018.46 2394.87 L1029.55 2395.32 L1040.65 2395.76 L1051.74 2396.2 L1062.84 2396.63 L1073.94 2397.06 L1085.03 2397.48 L1096.13 2397.89 L1107.22 2398.31 L1118.32 2398.71 L1129.41 2399.11 L1140.51 2399.51 L1151.6 2399.9 L1162.7 2400.29 L1173.8 2400.67 L1184.89 2401.05 L1195.99 2401.42 L1207.08 2401.79 L1218.18 2402.15 L1229.27 2402.51 L1240.37 2402.87 L1251.47 2403.22 L1262.56 2403.57 L1273.66 2403.91 L1284.75 2404.25 L1295.85 2404.59 L1306.94 2404.92 L1318.04 2405.25 L1329.14 2405.57 L1340.23 2405.9 L1351.33 2406.21 L1362.42 2406.53 L1373.52 2406.84 L1384.61 2407.15 L1395.71 2407.45 L1406.81 2407.75 L1417.9 2408.05 L1429 2408.35 L1440.09 2408.64 L1451.19 2408.93 L1462.28 2409.21 L1473.38 2409.5 L1484.48 2409.78 L1495.57 2410.05 L1506.67 2410.33 L1517.76 2410.6 L1528.86 2410.87 L1539.95 2411.14 L1551.05 2411.4 L1562.14 2411.66 L1573.24 2411.92 L1584.34 2412.17 L1595.43 2412.43 L1606.53 2412.68 L1617.62 2412.93 L1628.72 2413.17 L1639.81 2413.42 L1650.91 2413.66 L1662.01 2413.9 L1673.1 2414.13 L1684.2 2414.37 L1695.29 2414.6 L1706.39 2414.83 L1717.48 2415.06 L1728.58 2415.29 L1739.68 2415.51 L1750.77 2415.73 L1761.87 2415.95 L1772.96 2416.17 L1784.06 2416.39 L1795.15 2416.6 L1806.25 2416.81 L1817.35 2417.02 L1828.44 2417.23 L1839.54 2417.44 L1850.63 2417.64 L1861.73 2417.85 L1872.82 2418.05 L1883.92 2418.25 L1895.01 2418.44 L1906.11 2418.64 L1917.21 2418.84 L1928.3 2419.03 L1939.4 2419.22 L1950.49 2419.41 L1961.59 2419.6 L1972.68 2419.78 L1983.78 2419.97 L1994.88 2420.15 L2005.97 2420.33 L2017.07 2420.51 L2028.16 2420.69 L2039.26 2420.87 L2050.35 2421.05 L2061.45 2421.22 L2072.55 2421.39 L2083.64 2421.56 L2094.74 2421.73 L2105.83 2421.9" fill="none" stroke="#ff0000" stroke-width="11" stroke-linejoin="round" stroke-linecap="square" />
<circle cx="705.78" cy="2487.56" r="18.6" fill="#ff0000" stroke="#000" stroke-width="5"/>
<circle cx="869.66" cy="2485.09" r="18.6" fill="#ff0000" stroke="#000" stroke-width="5"/>
<circle cx="1017.82" cy="2483.27" r="18.6" fill="#ff0000" stroke="#000" stroke-width="5"/>
<circle cx="1280.88" cy="2480.71" r="18.6" fill="#ff0000" stroke="#000" stroke-width="5"/>
<circle cx="1399.99" cy="2479.77" r="18.6" fill="#ff0000" stroke="#000" stroke-width="5"/>
<circle cx="1512.64" cy="2478.97" r="18.6" fill="#ff0000" stroke="#000" stroke-width="5"/>
<circle cx="1619.79" cy="2478.28" r="18.6" fill="#ff0000" stroke="#000" stroke-width="5"/>
<circle cx="1722.17" cy="2477.68" r="18.6" fill="#ff0000" stroke="#000" stroke-width="5"/>
<circle cx="1820.37" cy="2477.16" r="18.6" fill="#ff0000" stroke="#000" stroke-width="5"/>
<circle cx="705.78" cy="2626.94" r="18.6" fill="#000000" stroke="#000" stroke-width="5"/>
<circle cx="869.66" cy="2609.76" r="18.6" fill="#000000" stroke="#000" stroke-width="5"/>
<circle cx="1017.82" cy="2597.07" r="18.6" fill="#000000" stroke="#000" stroke-width="5"/>
<circle cx="1280.88" cy="2579.27" r="18.6" fill="#000000" stroke="#000" stroke-width="5"/>
<circle cx="1399.99" cy="2572.69" r="18.6" fill="#000000" stroke="#000" stroke-width="5"/>
<circle cx="1512.64" cy="2567.12" r="18.6" fill="#000000" stroke="#000" stroke-width="5"/>
<circle cx="1619.79" cy="2562.33" r="18.6" fill="#000000" stroke="#000" stroke-width="5"/>
<circle cx="1722.17" cy="2558.16" r="18.6" fill="#000000" stroke="#000" stroke-width="5"/>
<circle cx="1820.37" cy="2554.47" r="18.6" fill="#000000" stroke="#000" stroke-width="5"/>
<circle cx="705.78" cy="2418.71" r="18.6" fill="#0000ff" stroke="#000" stroke-width="5"/>
<circle cx="869.66" cy="2423.52" r="18.6" fill="#0000ff" stroke="#000" stroke-width="5"/>
<circle cx="1017.82" cy="2427.06" r="18.6" fill="#0000ff" stroke="#000" stroke-width="5"/>
<circle cx="1280.88" cy="2432.04" r="18.6" fill="#0000ff" stroke="#000" stroke-width="5"/>
<circle cx="1399.99" cy="2433.88" r="18.6" fill="#0000ff" stroke="#000" stroke-width="5"/>
<circle cx="1512.64" cy="2435.43" r="18.6" fill="#0000ff" stroke="#000" stroke-width="5"/>
<circle cx="1619.79" cy="2436.77" r="18.6" fill="#0000ff" stroke="#000" stroke-width="5"/>
<circle cx="1722.17" cy="2437.94" r="18.6" fill="#0000ff" stroke="#000" stroke-width="5"/>
<circle cx="1820.37" cy="2438.97" r="18.6" fill="#0000ff" stroke="#000" stroke-width="5"/>
<circle cx="705.78" cy="2451.96" r="18.6" fill="#800080" stroke="#000" stroke-width="5"/>
<circle cx="869.66" cy="2453.25" r="18.6" fill="#800080" stroke="#000" stroke-width="5"/>
<circle cx="1017.82" cy="2454.2" r="18.6" fill="#800080" stroke="#000" stroke-width="5"/>
<circle cx="1280.88" cy="2455.54" r="18.6" fill="#800080" stroke="#000" stroke-width="5"/>
<circle cx="1399.99" cy="2456.04" r="18.6" fill="#800080" stroke="#000" stroke-width="5"/>
<circle cx="1512.64" cy="2456.46" r="18.6" fill="#800080" stroke="#000" stroke-width="5"/>
<circle cx="1619.79" cy="2456.82" r="18.6" fill="#800080" stroke="#000" stroke-width="5"/>
<circle cx="1722.17" cy="2457.13" r="18.6" fill="#800080" stroke="#000" stroke-width="5"/>
<circle cx="1820.37" cy="2457.41" r="18.6" fill="#800080" stroke="#000" stroke-width="5"/>
<circle cx="705.78" cy="1876.54" r="18.6" fill="#808080" stroke="#000" stroke-width="5"/>
<circle cx="869.66" cy="1938.58" r="18.6" fill="#808080" stroke="#000" stroke-width="5"/>
<circle cx="1017.82" cy="1984.38" r="18.6" fill="#808080" stroke="#000" stroke-width="5"/>
<circle cx="1280.88" cy="2048.66" r="18.6" fill="#808080" stroke="#000" stroke-width="5"/>
<circle cx="1399.99" cy="2072.43" r="18.6" fill="#808080" stroke="#000" stroke-width="5"/>
<circle cx="1512.64" cy="2092.53" r="18.6" fill="#808080" stroke="#000" stroke-width="5"/>
<circle cx="1619.79" cy="2109.83" r="18.6" fill="#808080" stroke="#000" stroke-width="5"/>
<circle cx="1722.17" cy="2124.92" r="18.6" fill="#808080" stroke="#000" stroke-width="5"/>
<circle cx="1820.37" cy="2138.23" r="18.6" fill="#808080" stroke="#000" stroke-width="5"/>
<circle cx="705.78" cy="2379.25" r="18.6" fill="#ff8000" stroke="#000" stroke-width="5"/>
<circle cx="869.66" cy="2388.22" r="18.6" fill="#ff8000" stroke="#000" stroke-width="5"/>
<circle cx="1017.82" cy="2394.84" r="18.6" fill="#ff8000" stroke="#000" stroke-width="5"/>
<circle cx="1280.88" cy="2404.13" r="18.6" fill="#ff8000" stroke="#000" stroke-width="5"/>
<circle cx="1399.99" cy="2407.57" r="18.6" fill="#ff8000" stroke="#000" stroke-width="5"/>
<circle cx="1512.64" cy="2410.48" r="18.6" fill="#ff8000" stroke="#000" stroke-width="5"/>
<circle cx="1619.79" cy="2412.98" r="18.6" fill="#ff8000" stroke="#000" stroke-width="5"/>
<circle cx="1722.17" cy="2415.16" r="18.6" fill="#ff8000" stroke="#000" stroke-width="5"/>
<circle cx="1820.37" cy="2417.08" r="18.6" fill="#ff8000" stroke="#000" stroke-width="5"/>
<line x1="293.8" y1="1600.9" x2="293.8" y2="2744.3" stroke="#7c7c7c" stroke-width="2.6" stroke-linecap="square"/>
<line x1="293.8" y1="1600.9" x2="2143" y2="1600.9" stroke="#7c7c7c" stroke-width="2.6" stroke-linecap="square"/>
<line x1="2143" y1="1600.9" x2="2143" y2="2744.3" stroke="#383838" stroke-width="1.8" stroke-linecap="square"/>
<line x1="293.8" y1="2744.3" x2="2143" y2="2744.3" stroke="#383838" stroke-width="1.8" stroke-linecap="square"/>
<path d="M368.05 2744.3v-5.8M368.05 1600.9v5.8M443.1 2744.3v-10.5M443.1 1600.9v10.5M518.15 2744.3v-5.8M518.15 1600.9v5.8M593.2 2744.3v-5.8M593.2 1600.9v5.8M668.25 2744.3v-5.8M668.25 1600.9v5.8M743.3 2744.3v-5.8M743.3 1600.9v5.8M818.35 2744.3v-10.5M818.35 1600.9v10.5M893.4 2744.3v-5.8M893.4 1600.9v5.8M968.45 2744.3v-5.8M968.45 1600.9v5.8M1043.5 2744.3v-5.8M1043.5 1600.9v5.8M1118.55 2744.3v-5.8M1118.55 1600.9v5.8M1193.6 2744.3v-10.5M1193.6 1600.9v10.5M1268.65 2744.3v-5.8M1268.65 1600.9v5.8M1343.7 2744.3v-5.8M1343.7 1600.9v5.8M1418.75 2744.3v-5.8M1418.75 1600.9v5.8M1493.8 2744.3v-5.8M1493.8 1600.9v5.8M1568.85 2744.3v-10.5M1568.85 1600.9v10.5M1643.9 2744.3v-5.8M1643.9 1600.9v5.8M1718.95 2744.3v-5.8M1718.95 1600.9v5.8M1794 2744.3v-5.8M1794 1600.9v5.8M1869.05 2744.3v-5.8M1869.05 1600.9v5.8M1944.1 2744.3v-10.5M1944.1 1600.9v10.5M2019.15 2744.3v-5.8M2019.15 1600.9v5.8M2094.2 2744.3v-5.8M2094.2 1600.9v5.8M293.8 2742.96h5.8M2143 2742.96h-5.8M293.8 2673.27h5.8M2143 2673.27h-5.8M293.8 2603.58h5.8M2143 2603.58h-5.8M293.8 2533.89h5.8M2143 2533.89h-5.8M293.8 2464.2h10.5M2143 2464.2h-10.5M293.8 2394.51h5.8M2143 2394.51h-5.8M293.8 2324.82h5.8M2143 2324.82h-5.8M293.8 2255.13h5.8M2143 2255.13h-5.8M293.8 2185.44h5.8M2143 2185.44h-5.8M293.8 2115.75h10.5M2143 2115.75h-10.5M293.8 2046.06h5.8M2143 2046.06h-5.8M293.8 1976.37h5.8M2143 1976.37h-5.8M293.8 1906.68h5.8M2143 1906.68h-5.8M293.8 1836.99h5.8M2143 1836.99h-5.8M293.8 1767.3h10.5M2143 1767.3h-10.5M293.8 1697.61h5.8M2143 1697.61h-5.8M293.8 1627.92h5.8M2143 1627.92h-5.8" fill="none" stroke="#505050" stroke-width="1.6"/>
<text x="441.6" y="2806" font-size="70" text-anchor="middle" >3</text>
<text x="816.85" y="2806" font-size="70" text-anchor="middle" >4</text>
<text x="1192.1" y="2806" font-size="70" text-anchor="middle" >5</text>
<text x="1567.35" y="2806" font-size="70" text-anchor="middle" >6</text>
<text x="1942.6" y="2806" font-size="70" text-anchor="middle" >7</text>
<text x="285.5" y="1786.1" font-size="69" text-anchor="end" textLength="180" lengthAdjust="spacingAndGlyphs">10,000</text>
<text x="285.5" y="2134.55" font-size="69" text-anchor="end" textLength="139" lengthAdjust="spacingAndGlyphs">5000</text>
<text x="285.5" y="2483" font-size="69" text-anchor="end" >0</text>
<text transform="translate(72.7 2467) rotate(-90)" font-size="72" textLength="584" lengthAdjust="spacingAndGlyphs">Potential (Elec), <tspan font-style="italic">V</tspan><tspan font-size="50" dy="9.5">Elec</tspan></text>
<text x="1217" y="2901" font-size="72" text-anchor="middle" >r, Å</text>
<text x="1073" y="3048" font-size="73" text-anchor="middle">(<tspan font-weight="bold">b</tspan>)</text>
<rect x="1711" y="1615.5" width="410.5" height="448" fill="#fff" stroke="#000" stroke-width="2.6"/>
<line x1="1728" y1="1655.2" x2="1779" y2="1655.2" stroke="#ff0000" stroke-width="4.6" />
<text x="1800" y="1669.5" font-size="58" font-style="italic">V</text>
<text x="1833" y="1678.5" font-size="40" textLength="165" lengthAdjust="spacingAndGlyphs">Elec <tspan font-style="italic">O−H</tspan></text>
<line x1="1728" y1="1727.7" x2="1779" y2="1727.7" stroke="#000000" stroke-width="10" />
<text x="1800" y="1742" font-size="58" font-style="italic">V</text>
<text x="1833" y="1751" font-size="40" textLength="216.5" lengthAdjust="spacingAndGlyphs">Elec <tspan font-style="italic">O</tspan>−Eu<tspan font-size="29" dy="-15">3+</tspan></text>
<line x1="1728" y1="1803.2" x2="1779" y2="1803.2" stroke="#0000ff" stroke-width="4.6" />
<text x="1800" y="1817.5" font-size="58" font-style="italic">V</text>
<text x="1833" y="1826.5" font-size="40" textLength="167.5" lengthAdjust="spacingAndGlyphs">Elec <tspan font-style="italic">O−O</tspan></text>
<line x1="1728" y1="1874.7" x2="1779" y2="1874.7" stroke="#800080" stroke-width="4.6" />
<text x="1800" y="1889" font-size="58" font-style="italic">V</text>
<text x="1833" y="1898" font-size="40" textLength="165" lengthAdjust="spacingAndGlyphs">Elec <tspan font-style="italic">H−H</tspan></text>
<line x1="1728" y1="1946.3" x2="1779" y2="1946.3" stroke="#808080" stroke-width="7.6" />
<text x="1800" y="1960.6" font-size="58" font-style="italic">V</text>
<text x="1833" y="1969.6" font-size="40" textLength="268.5" lengthAdjust="spacingAndGlyphs">Elec Eu<tspan font-size="29" dy="-15">3+</tspan><tspan dy="15"> −</tspan>Eu<tspan font-size="29" dy="-15">3+</tspan></text>
<line x1="1728" y1="2022.7" x2="1779" y2="2022.7" stroke="#ff8000" stroke-width="4.6" />
<text x="1800" y="2037" font-size="58" font-style="italic">V</text>
<text x="1833" y="2046" font-size="40" textLength="216.5" lengthAdjust="spacingAndGlyphs">Elec <tspan font-style="italic">H</tspan>−Eu<tspan font-size="29" dy="-15">3+</tspan></text>
</g>
<g id="plot-c" class="tb">
<line x1="444.7" y1="4270.9" x2="444.7" y2="3132.4" stroke="#cdcdcd" stroke-width="1.6" stroke-dasharray="11.5 10.65"/>
<line x1="819.65" y1="4270.9" x2="819.65" y2="3132.4" stroke="#cdcdcd" stroke-width="1.6" stroke-dasharray="11.5 10.65"/>
<line x1="1194.6" y1="4270.9" x2="1194.6" y2="3132.4" stroke="#cdcdcd" stroke-width="1.6" stroke-dasharray="11.5 10.65"/>
<line x1="1569.55" y1="4270.9" x2="1569.55" y2="3132.4" stroke="#cdcdcd" stroke-width="1.6" stroke-dasharray="11.5 10.65"/>
<line x1="1944.5" y1="4270.9" x2="1944.5" y2="3132.4" stroke="#cdcdcd" stroke-width="1.6" stroke-dasharray="11.5 10.65"/>
<line x1="295.2" y1="3380.06" x2="2143.4" y2="3380.06" stroke="#cdcdcd" stroke-width="1.6" stroke-dasharray="11.5 10.65"/>
<line x1="295.2" y1="3589.62" x2="2143.4" y2="3589.62" stroke="#cdcdcd" stroke-width="1.6" stroke-dasharray="11.5 10.65"/>
<line x1="295.2" y1="3799.18" x2="2143.4" y2="3799.18" stroke="#cdcdcd" stroke-width="1.6" stroke-dasharray="11.5 10.65"/>
<line x1="295.2" y1="4008.74" x2="2143.4" y2="4008.74" stroke="#cdcdcd" stroke-width="1.6" stroke-dasharray="11.5 10.65"/>
<line x1="295.2" y1="4218.3" x2="2143.4" y2="4218.3" stroke="#cdcdcd" stroke-width="1.6" stroke-dasharray="11.5 10.65"/>
<path d="M332.22 4213.58 L341.08 4214.3 L349.95 4214.95 L358.82 4215.55 L367.69 4216.09 L376.56 4216.57 L385.43 4216.99 L394.3 4217.35 L403.17 4217.66 L412.04 4217.9 L420.91 4218.09 L429.78 4218.22 L438.65 4218.29 L447.52 4218.3 L456.39 4218.25 L465.26 4218.14 L474.13 4217.98 L483 4217.75 L491.86 4217.47 L500.73 4217.13 L509.6 4216.73 L518.47 4216.27 L527.34 4215.75 L536.21 4215.18 L545.08 4214.54 L553.95 4213.85 L562.82 4213.1 L571.69 4212.29 L580.56 4211.42 L589.43 4210.49 L598.3 4209.51 L607.17 4208.46 L616.04 4207.36 L624.91 4206.2 L633.78 4204.98 L642.65 4203.7 L651.51 4202.36 L660.38 4200.96 L669.25 4199.51 L678.12 4198 L686.99 4196.42 L695.86 4194.79 L704.73 4193.1 L713.6 4191.35 L722.47 4189.55 L731.34 4187.68 L740.21 4185.76 L749.08 4183.78 L757.95 4181.73 L766.82 4179.63 L775.69 4177.48 L784.56 4175.26 L793.43 4172.98 L802.3 4170.65 L811.16 4168.25 L820.03 4165.8 L828.9 4163.29 L837.77 4160.72 L846.64 4158.1 L855.51 4155.41 L864.38 4152.66 L873.25 4149.86 L882.12 4147 L890.99 4144.08 L899.86 4141.1 L908.73 4138.06 L917.6 4134.96 L926.47 4131.81 L935.34 4128.59 L944.21 4125.32 L953.08 4121.99 L961.95 4118.6 L970.81 4115.15 L979.68 4111.64 L988.55 4108.08 L997.42 4104.45 L1006.29 4100.77 L1015.16 4097.03 L1024.03 4093.23 L1032.9 4089.37 L1041.77 4085.45 L1050.64 4081.48 L1059.51 4077.44 L1068.38 4073.35 L1077.25 4069.2 L1086.12 4064.99 L1094.99 4060.72 L1103.86 4056.39 L1112.73 4052 L1121.6 4047.56 L1130.46 4043.05 L1139.33 4038.49 L1148.2 4033.87 L1157.07 4029.19 L1165.94 4024.45 L1174.81 4019.65 L1183.68 4014.8 L1192.55 4009.88 L1201.42 4004.91 L1210.29 3999.88 L1219.16 3994.79 L1228.03 3989.64 L1236.9 3984.43 L1245.77 3979.17 L1254.64 3973.84 L1263.51 3968.46 L1272.38 3963.02 L1281.25 3957.52 L1290.11 3951.96 L1298.98 3946.34 L1307.85 3940.66 L1316.72 3934.93 L1325.59 3929.13 L1334.46 3923.28 L1343.33 3917.37 L1352.2 3911.4 L1361.07 3905.37 L1369.94 3899.29 L1378.81 3893.14 L1387.68 3886.94 L1396.55 3880.67 L1405.42 3874.35 L1414.29 3867.97 L1423.16 3861.53 L1432.03 3855.04 L1440.9 3848.48 L1449.76 3841.87 L1458.63 3835.19 L1467.5 3828.46 L1476.37 3821.67 L1485.24 3814.82 L1494.11 3807.91 L1502.98 3800.95 L1511.85 3793.92 L1520.72 3786.84 L1529.59 3779.7 L1538.46 3772.49 L1547.33 3765.24 L1556.2 3757.92 L1565.07 3750.54 L1573.94 3743.11 L1582.81 3735.61 L1591.68 3728.06 L1600.55 3720.45 L1609.41 3712.78 L1618.28 3705.05 L1627.15 3697.26 L1636.02 3689.42 L1644.89 3681.51 L1653.76 3673.55 L1662.63 3665.53 L1671.5 3657.45 L1680.37 3649.31 L1689.24 3641.11 L1698.11 3632.85 L1706.98 3624.54 L1715.85 3616.16 L1724.72 3607.73 L1733.59 3599.24 L1742.46 3590.69 L1751.33 3582.08 L1760.2 3573.42 L1769.06 3564.69 L1777.93 3555.91 L1786.8 3547.07 L1795.67 3538.17 L1804.54 3529.21 L1813.41 3520.19 L1822.28 3511.11 L1831.15 3501.97 L1840.02 3492.78 L1848.89 3483.53 L1857.76 3474.22 L1866.63 3464.85 L1875.5 3455.42 L1884.37 3445.93 L1893.24 3436.38 L1902.11 3426.78 L1910.98 3417.11 L1919.85 3407.39 L1928.71 3397.61 L1937.58 3387.77 L1946.45 3377.87 L1955.32 3367.92 L1964.19 3357.9 L1973.06 3347.83 L1981.93 3337.7 L1990.8 3327.51 L1999.67 3317.26 L2008.54 3306.95 L2017.41 3296.58 L2026.28 3286.16 L2035.15 3275.67 L2044.02 3265.13 L2052.89 3254.53 L2061.76 3243.87 L2070.63 3233.15 L2079.5 3222.37 L2088.36 3211.54 L2097.23 3200.64 L2106.1 3189.69" fill="none" stroke="#000" stroke-width="11.5" stroke-linejoin="round" stroke-linecap="square" />
<circle cx="707.16" cy="4192.63" r="18.6" fill="#e83223" stroke="#000" stroke-width="5.2"/>
<circle cx="870.92" cy="4150.6" r="18.6" fill="#e83223" stroke="#000" stroke-width="5.2"/>
<circle cx="1018.96" cy="4095.41" r="18.6" fill="#e83223" stroke="#000" stroke-width="5.2"/>
<circle cx="1281.81" cy="3957.16" r="18.6" fill="#e83223" stroke="#000" stroke-width="5.2"/>
<circle cx="1400.82" cy="3877.63" r="18.6" fill="#e83223" stroke="#000" stroke-width="5.2"/>
<circle cx="1513.39" cy="3792.7" r="18.6" fill="#e83223" stroke="#000" stroke-width="5.2"/>
<circle cx="1620.45" cy="3703.15" r="18.6" fill="#e83223" stroke="#000" stroke-width="5.2"/>
<circle cx="1722.75" cy="3609.61" r="18.6" fill="#e83223" stroke="#000" stroke-width="5.2"/>
<circle cx="1820.87" cy="3512.56" r="18.6" fill="#e83223" stroke="#000" stroke-width="5.2"/>
<line x1="295.2" y1="3132.4" x2="295.2" y2="4274.9" stroke="#707070" stroke-width="2.4" stroke-linecap="square"/>
<line x1="295.2" y1="3132.4" x2="2143.4" y2="3132.4" stroke="#707070" stroke-width="2.4" stroke-linecap="square"/>
<line x1="2143.4" y1="3132.4" x2="2143.4" y2="4274.9" stroke="#707070" stroke-width="2.4" stroke-linecap="square"/>
<line x1="295.2" y1="4274.9" x2="2143.4" y2="4274.9" stroke="#2a2a2a" stroke-width="1.6" stroke-linecap="square"/>
<path d="M369.71 4274.9v-5.8M369.71 3132.4v5.8M444.7 4274.9v-10.5M444.7 3132.4v10.5M519.69 4274.9v-5.8M519.69 3132.4v5.8M594.68 4274.9v-5.8M594.68 3132.4v5.8M669.67 4274.9v-5.8M669.67 3132.4v5.8M744.66 4274.9v-5.8M744.66 3132.4v5.8M819.65 4274.9v-10.5M819.65 3132.4v10.5M894.64 4274.9v-5.8M894.64 3132.4v5.8M969.63 4274.9v-5.8M969.63 3132.4v5.8M1044.62 4274.9v-5.8M1044.62 3132.4v5.8M1119.61 4274.9v-5.8M1119.61 3132.4v5.8M1194.6 4274.9v-10.5M1194.6 3132.4v10.5M1269.59 4274.9v-5.8M1269.59 3132.4v5.8M1344.58 4274.9v-5.8M1344.58 3132.4v5.8M1419.57 4274.9v-5.8M1419.57 3132.4v5.8M1494.56 4274.9v-5.8M1494.56 3132.4v5.8M1569.55 4274.9v-10.5M1569.55 3132.4v10.5M1644.54 4274.9v-5.8M1644.54 3132.4v5.8M1719.53 4274.9v-5.8M1719.53 3132.4v5.8M1794.52 4274.9v-5.8M1794.52 3132.4v5.8M1869.51 4274.9v-5.8M1869.51 3132.4v5.8M1944.5 4274.9v-10.5M1944.5 3132.4v10.5M2019.49 4274.9v-5.8M2019.49 3132.4v5.8M2094.48 4274.9v-5.8M2094.48 3132.4v5.8M295.2 4260.21h5.8M2143.4 4260.21h-5.8M295.2 4218.3h10.5M2143.4 4218.3h-10.5M295.2 4176.39h5.8M2143.4 4176.39h-5.8M295.2 4134.48h5.8M2143.4 4134.48h-5.8M295.2 4092.56h5.8M2143.4 4092.56h-5.8M295.2 4050.65h5.8M2143.4 4050.65h-5.8M295.2 4008.74h10.5M2143.4 4008.74h-10.5M295.2 3966.83h5.8M2143.4 3966.83h-5.8M295.2 3924.92h5.8M2143.4 3924.92h-5.8M295.2 3883h5.8M2143.4 3883h-5.8M295.2 3841.09h5.8M2143.4 3841.09h-5.8M295.2 3799.18h10.5M2143.4 3799.18h-10.5M295.2 3757.27h5.8M2143.4 3757.27h-5.8M295.2 3715.36h5.8M2143.4 3715.36h-5.8M295.2 3673.44h5.8M2143.4 3673.44h-5.8M295.2 3631.53h5.8M2143.4 3631.53h-5.8M295.2 3589.62h10.5M2143.4 3589.62h-10.5M295.2 3547.71h5.8M2143.4 3547.71h-5.8M295.2 3505.8h5.8M2143.4 3505.8h-5.8M295.2 3463.88h5.8M2143.4 3463.88h-5.8M295.2 3421.97h5.8M2143.4 3421.97h-5.8M295.2 3380.06h10.5M2143.4 3380.06h-10.5M295.2 3338.15h5.8M2143.4 3338.15h-5.8M295.2 3296.24h5.8M2143.4 3296.24h-5.8M295.2 3254.32h5.8M2143.4 3254.32h-5.8M295.2 3212.41h5.8M2143.4 3212.41h-5.8M295.2 3170.5h10.5M2143.4 3170.5h-10.5" fill="none" stroke="#505050" stroke-width="1.6"/>
<text x="443.2" y="4337.5" font-size="70" text-anchor="middle" >3</text>
<text x="818.15" y="4337.5" font-size="70" text-anchor="middle" >4</text>
<text x="1193.1" y="4337.5" font-size="70" text-anchor="middle" >5</text>
<text x="1568.05" y="4337.5" font-size="70" text-anchor="middle" >6</text>
<text x="1943" y="4337.5" font-size="70" text-anchor="middle" >7</text>
<text x="286.5" y="3189.3" font-size="69" text-anchor="end" textLength="184" lengthAdjust="spacingAndGlyphs">25,000</text>
<text x="286.5" y="3398.86" font-size="69" text-anchor="end" textLength="183" lengthAdjust="spacingAndGlyphs">20,000</text>
<text x="286.5" y="3608.42" font-size="69" text-anchor="end" textLength="182" lengthAdjust="spacingAndGlyphs">15,000</text>
<text x="286.5" y="3817.98" font-size="69" text-anchor="end" textLength="182" lengthAdjust="spacingAndGlyphs">10,000</text>
<text x="286.5" y="4027.54" font-size="69" text-anchor="end" textLength="139.5" lengthAdjust="spacingAndGlyphs">5000</text>
<text x="286.5" y="4237.1" font-size="69" text-anchor="end" >0</text>
<text transform="translate(72 4022.6) rotate(-90)" font-size="72" textLength="637" lengthAdjust="spacingAndGlyphs">Potential (Bond), <tspan font-style="italic">V</tspan><tspan font-size="50" dy="9.5">Bond</tspan></text>
<text x="1218" y="4432.4" font-size="72" text-anchor="middle" >r, Å</text>
<text x="1082.5" y="4579.8" font-size="73" text-anchor="middle">(<tspan font-weight="bold">c</tspan>)</text>
</g>
</svg>
</body>
</html>
